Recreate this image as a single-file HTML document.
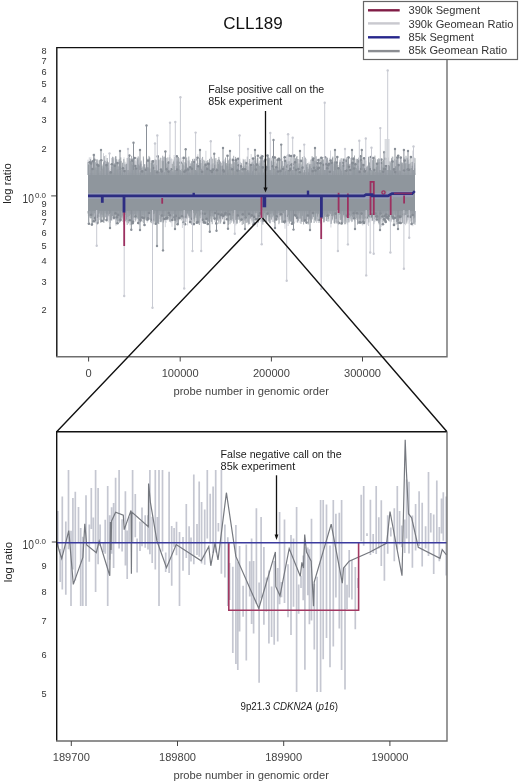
<!DOCTYPE html>
<html><head><meta charset="utf-8"><style>
html,body{margin:0;padding:0;background:#fff;}
svg{display:block;filter:blur(0.35px);}
text{font-family:"Liberation Sans", sans-serif;}
</style></head><body>
<svg width="520" height="782" viewBox="0 0 520 782">
<rect width="520" height="782" fill="#fff"/>
<rect x="88.0" y="173" width="327.0" height="39.5" fill="#8f969d"/>
<path d="M88.0 159.7V175.0M88.4 211.0V216.0M88.4 163.9V175.0M88.8 211.0V214.2M89.0 170.2V175.0M89.4 211.0V216.5M89.3 157.3V175.0M89.7 211.0V218.0M90.0 170.0V175.0M90.4 211.0V213.2M90.8 157.3V175.0M91.2 211.0V213.0M91.5 160.7V175.0M91.9 211.0V214.0M92.2 163.8V175.0M92.6 211.0V215.3M92.9 159.8V175.0M93.3 211.0V215.3M93.3 160.2V175.0M93.7 211.0V214.9M93.9 156.3V175.0M94.3 211.0V222.8M94.2 169.3V175.0M94.6 211.0V214.6M94.6 153.7V175.0M95.0 211.0V222.2M95.3 167.1V175.0M95.7 211.0V220.6M95.6 163.0V175.0M96.0 211.0V219.1M96.4 169.8V175.0M96.8 211.0V220.0M96.7 170.4V175.0M97.1 211.0V215.3M97.1 164.4V175.0M97.5 211.0V216.0M97.5 163.3V175.0M97.9 211.0V214.0M98.0 160.4V175.0M98.4 211.0V217.2M98.8 172.6V175.0M99.2 211.0V216.9M99.4 164.7V175.0M99.8 211.0V217.1M99.9 171.9V175.0M100.3 211.0V215.0M100.3 170.8V175.0M100.7 211.0V216.3M100.9 161.9V175.0M101.3 211.0V221.0M101.4 167.2V175.0M101.8 211.0V218.7M101.7 167.1V175.0M102.1 211.0V213.4M102.3 166.6V175.0M102.7 211.0V215.6M102.9 166.0V175.0M103.3 211.0V222.2M103.5 153.2V175.0M103.9 211.0V214.9M103.9 167.4V175.0M104.3 211.0V220.3M104.2 168.2V175.0M104.6 211.0V213.4M104.6 159.9V175.0M105.0 211.0V217.9M105.1 160.3V175.0M105.5 211.0V216.8M105.5 169.7V175.0M105.9 211.0V216.6M105.9 155.1V175.0M106.3 211.0V218.5M106.4 164.6V175.0M106.8 211.0V214.5M107.0 160.5V175.0M107.4 211.0V221.1M107.8 167.3V175.0M108.2 211.0V222.4M108.1 168.0V175.0M108.5 211.0V214.3M108.4 171.2V175.0M108.8 211.0V214.0M109.2 168.1V175.0M109.6 211.0V214.0M109.5 169.5V175.0M109.9 211.0V220.5M110.1 169.1V175.0M110.5 211.0V222.9M110.9 164.1V175.0M111.3 211.0V219.4M111.5 157.9V175.0M111.9 211.0V220.8M112.1 171.0V175.0M112.5 211.0V215.4M112.5 167.1V175.0M112.9 211.0V219.6M113.2 159.2V175.0M113.6 211.0V219.6M113.9 167.1V175.0M114.3 211.0V219.8M114.3 169.0V175.0M114.7 211.0V218.7M114.9 157.5V175.0M115.3 211.0V218.7M115.6 162.9V175.0M116.0 211.0V225.8M116.4 161.9V175.0M116.8 211.0V221.6M116.8 164.0V175.0M117.2 211.0V213.9M117.2 159.5V175.0M117.6 211.0V220.9M117.7 170.9V175.0M118.1 211.0V216.1M118.1 166.7V175.0M118.5 211.0V217.0M118.7 160.0V175.0M119.1 211.0V222.9M119.3 162.5V175.0M119.7 211.0V220.0M119.7 166.2V175.0M120.1 211.0V220.3M120.1 168.0V175.0M120.5 211.0V219.3M120.7 161.2V175.0M121.1 211.0V219.2M121.1 172.8V175.0M121.5 211.0V219.8M121.6 168.0V175.0M122.0 211.0V217.6M122.2 165.7V175.0M122.6 211.0V216.9M122.9 167.0V175.0M123.3 211.0V218.7M123.6 170.9V175.0M124.0 211.0V213.1M124.0 157.4V175.0M124.4 211.0V218.1M124.7 163.5V175.0M125.1 211.0V217.3M125.0 161.7V175.0M125.4 211.0V220.5M125.4 172.0V175.0M125.8 211.0V213.0M126.0 162.6V175.0M126.4 211.0V222.5M126.5 167.0V175.0M126.9 211.0V217.4M126.9 171.4V175.0M127.3 211.0V219.7M127.2 169.8V175.0M127.6 211.0V221.5M127.6 158.0V175.0M128.0 211.0V220.9M128.4 160.1V175.0M128.8 211.0V213.4M128.9 172.6V175.0M129.3 211.0V219.7M129.5 171.3V175.0M129.9 211.0V225.3M130.0 158.1V175.0M130.4 211.0V215.1M130.4 171.9V175.0M130.8 211.0V217.7M131.0 169.7V175.0M131.4 211.0V222.0M131.7 164.1V175.0M132.1 211.0V222.4M132.3 164.7V175.0M132.7 211.0V217.0M132.7 158.3V175.0M133.1 211.0V214.7M133.0 162.4V175.0M133.4 211.0V221.0M133.8 161.5V175.0M134.2 211.0V214.2M134.2 164.7V175.0M134.6 211.0V220.4M134.7 168.5V175.0M135.1 211.0V219.7M135.3 160.3V175.0M135.7 211.0V215.6M135.7 168.3V175.0M136.1 211.0V220.1M136.3 161.4V175.0M136.7 211.0V218.9M136.8 157.0V175.0M137.2 211.0V213.8M137.5 160.0V175.0M137.9 211.0V215.1M138.1 159.6V175.0M138.5 211.0V222.5M138.6 159.7V175.0M139.0 211.0V225.1M139.0 157.6V175.0M139.4 211.0V214.0M139.3 166.9V175.0M139.7 211.0V216.3M139.9 162.9V175.0M140.3 211.0V221.5M140.3 162.0V175.0M140.7 211.0V222.3M140.6 167.5V175.0M141.0 211.0V217.8M141.1 161.6V175.0M141.5 211.0V214.0M141.6 164.1V175.0M142.0 211.0V215.4M141.9 171.1V175.0M142.3 211.0V222.0M142.4 172.8V175.0M142.8 211.0V217.2M142.9 168.6V175.0M143.3 211.0V214.8M143.6 158.5V175.0M144.0 211.0V213.1M144.2 164.3V175.0M144.6 211.0V221.1M144.7 169.6V175.0M145.1 211.0V214.5M145.3 172.6V175.0M145.7 211.0V217.1M145.8 164.3V175.0M146.2 211.0V220.9M146.3 161.3V175.0M146.7 211.0V213.9M146.8 160.5V175.0M147.2 211.0V222.7M147.4 164.5V175.0M147.8 211.0V221.5M148.0 157.7V175.0M148.4 211.0V218.7M148.6 169.1V175.0M149.0 211.0V216.2M149.4 168.6V175.0M149.8 211.0V219.8M150.1 157.5V175.0M150.5 211.0V219.7M150.7 163.0V175.0M151.1 211.0V213.3M151.5 162.7V175.0M151.9 211.0V221.7M151.9 160.0V175.0M152.3 211.0V222.3M152.2 169.3V175.0M152.6 211.0V215.3M152.9 160.9V175.0M153.3 211.0V220.1M153.4 170.8V175.0M153.8 211.0V222.5M153.9 171.4V175.0M154.3 211.0V214.2M154.4 166.0V175.0M154.8 211.0V216.3M154.8 166.8V175.0M155.2 211.0V221.3M155.4 171.2V175.0M155.8 211.0V222.9M155.9 160.5V175.0M156.3 211.0V218.7M156.5 168.8V175.0M156.9 211.0V221.1M157.3 160.2V175.0M157.7 211.0V213.3M157.9 164.4V175.0M158.3 211.0V220.7M158.6 160.4V175.0M159.0 211.0V221.9M159.2 171.5V175.0M159.6 211.0V218.9M159.6 159.7V175.0M160.0 211.0V218.5M160.3 170.8V175.0M160.7 211.0V221.9M161.1 169.9V175.0M161.5 211.0V217.7M161.8 157.8V175.0M162.2 211.0V216.6M162.6 161.6V175.0M163.0 211.0V220.3M163.2 159.9V175.0M163.6 211.0V217.3M163.7 157.6V175.0M164.1 211.0V221.4M164.2 172.8V175.0M164.6 211.0V217.1M164.9 169.6V175.0M165.3 211.0V227.2M165.3 170.0V175.0M165.7 211.0V222.2M165.6 157.5V175.0M166.0 211.0V223.0M166.0 163.9V175.0M166.4 211.0V219.8M166.6 158.1V175.0M167.0 211.0V215.8M167.1 161.9V175.0M167.5 211.0V220.3M167.7 162.5V175.0M168.1 211.0V219.6M168.4 161.5V175.0M168.8 211.0V213.7M169.0 168.1V175.0M169.4 211.0V216.7M169.4 154.7V175.0M169.8 211.0V220.2M169.7 166.6V175.0M170.1 211.0V213.9M170.2 171.4V175.0M170.6 211.0V217.4M170.6 171.9V175.0M171.0 211.0V223.1M170.9 159.2V175.0M171.3 211.0V221.6M171.6 158.4V175.0M172.0 211.0V226.8M172.0 159.1V175.0M172.4 211.0V220.2M172.6 171.6V175.0M173.0 211.0V213.9M173.1 162.0V175.0M173.5 211.0V216.9M173.7 159.6V175.0M174.1 211.0V216.4M174.1 155.0V175.0M174.5 211.0V213.0M174.5 162.7V175.0M174.9 211.0V219.7M175.0 158.5V175.0M175.4 211.0V215.6M175.7 169.7V175.0M176.1 211.0V222.2M176.2 168.0V175.0M176.6 211.0V221.6M176.7 161.4V175.0M177.1 211.0V217.2M177.0 159.6V175.0M177.4 211.0V215.5M177.4 170.8V175.0M177.8 211.0V220.0M178.1 166.7V175.0M178.5 211.0V224.1M178.5 168.4V175.0M178.9 211.0V218.9M178.9 159.4V175.0M179.3 211.0V216.6M179.5 158.1V175.0M179.9 211.0V217.4M180.0 161.7V175.0M180.4 211.0V213.3M180.7 165.2V175.0M181.1 211.0V216.0M181.4 161.2V175.0M181.8 211.0V216.0M182.0 157.4V175.0M182.4 211.0V227.9M182.7 160.0V175.0M183.1 211.0V221.7M183.4 164.8V175.0M183.8 211.0V221.8M183.8 166.1V175.0M184.2 211.0V216.0M184.3 165.6V175.0M184.7 211.0V217.7M185.0 162.2V175.0M185.4 211.0V222.0M185.5 172.1V175.0M185.9 211.0V219.2M185.8 166.4V175.0M186.2 211.0V222.0M186.1 162.8V175.0M186.5 211.0V217.2M186.5 164.8V175.0M186.9 211.0V219.1M187.2 171.5V175.0M187.6 211.0V225.4M187.9 160.3V175.0M188.3 211.0V218.0M188.3 161.1V175.0M188.7 211.0V213.6M189.1 170.7V175.0M189.5 211.0V222.0M189.5 161.5V175.0M189.9 211.0V222.4M189.8 159.9V175.0M190.2 211.0V218.6M190.6 164.2V175.0M191.0 211.0V218.1M191.3 169.9V175.0M191.7 211.0V213.5M191.6 164.3V175.0M192.0 211.0V215.7M192.0 168.8V175.0M192.4 211.0V218.0M192.4 162.9V175.0M192.8 211.0V220.8M192.8 165.9V175.0M193.2 211.0V218.3M193.2 158.6V175.0M193.6 211.0V219.1M193.7 172.8V175.0M194.1 211.0V221.4M194.1 162.0V175.0M194.5 211.0V219.6M194.4 162.4V175.0M194.8 211.0V220.3M195.1 160.7V175.0M195.5 211.0V217.2M195.8 160.9V175.0M196.2 211.0V222.1M196.2 163.6V175.0M196.6 211.0V213.2M196.9 163.0V175.0M197.3 211.0V220.6M197.5 172.2V175.0M197.9 211.0V215.9M197.8 154.2V175.0M198.2 211.0V221.2M198.4 169.5V175.0M198.8 211.0V214.5M198.8 162.9V175.0M199.2 211.0V216.6M199.6 157.8V175.0M200.0 211.0V217.6M200.3 167.4V175.0M200.7 211.0V222.6M200.9 166.4V175.0M201.3 211.0V216.7M201.5 158.4V175.0M201.9 211.0V217.3M202.0 168.6V175.0M202.4 211.0V221.5M202.3 161.1V175.0M202.7 211.0V220.3M202.9 166.8V175.0M203.3 211.0V222.3M203.4 169.6V175.0M203.8 211.0V219.8M203.8 165.8V175.0M204.2 211.0V217.2M204.3 163.6V175.0M204.7 211.0V220.6M204.8 170.6V175.0M205.2 211.0V215.3M205.2 164.0V175.0M205.6 211.0V217.2M205.9 150.8V175.0M206.3 211.0V222.7M206.4 169.9V175.0M206.8 211.0V220.7M206.9 167.2V175.0M207.3 211.0V223.0M207.3 168.7V175.0M207.7 211.0V222.1M207.6 167.7V175.0M208.0 211.0V221.5M208.2 165.9V175.0M208.6 211.0V216.7M208.6 171.4V175.0M209.0 211.0V217.3M209.0 164.6V175.0M209.4 211.0V222.4M209.7 164.0V175.0M210.1 211.0V213.8M210.4 160.3V175.0M210.8 211.0V216.8M210.7 157.8V175.0M211.1 211.0V221.0M211.2 164.3V175.0M211.6 211.0V215.8M211.5 167.1V175.0M211.9 211.0V215.2M212.0 164.8V175.0M212.4 211.0V213.5M212.8 163.7V175.0M213.2 211.0V215.9M213.2 163.2V175.0M213.6 211.0V213.7M213.7 172.8V175.0M214.1 211.0V219.2M214.2 166.7V175.0M214.6 211.0V221.8M214.8 158.7V175.0M215.2 211.0V217.5M215.3 164.0V175.0M215.7 211.0V221.7M215.7 160.7V175.0M216.1 211.0V215.7M216.1 164.6V175.0M216.5 211.0V213.7M216.5 168.2V175.0M216.9 211.0V216.1M217.2 168.8V175.0M217.6 211.0V220.6M217.5 168.6V175.0M217.9 211.0V218.3M218.0 167.7V175.0M218.4 211.0V215.5M218.6 159.2V175.0M219.0 211.0V221.7M219.0 159.5V175.0M219.4 211.0V214.3M219.3 171.6V175.0M219.7 211.0V219.8M220.1 161.6V175.0M220.5 211.0V215.9M220.7 166.6V175.0M221.1 211.0V217.8M221.0 170.6V175.0M221.4 211.0V221.7M221.3 169.3V175.0M221.7 211.0V217.4M221.9 171.1V175.0M222.3 211.0V214.2M222.7 161.1V175.0M223.1 211.0V218.6M223.4 160.4V175.0M223.8 211.0V215.0M224.1 171.3V175.0M224.5 211.0V213.8M224.4 159.3V175.0M224.8 211.0V222.5M225.2 168.2V175.0M225.6 211.0V218.5M225.7 160.5V175.0M226.1 211.0V216.2M226.1 168.0V175.0M226.5 211.0V213.6M226.4 164.7V175.0M226.8 211.0V216.9M227.1 170.1V175.0M227.5 211.0V213.9M227.8 170.0V175.0M228.2 211.0V222.0M228.4 171.8V175.0M228.8 211.0V220.8M228.9 166.4V175.0M229.3 211.0V214.9M229.6 163.8V175.0M230.0 211.0V218.7M230.2 169.6V175.0M230.6 211.0V216.4M230.7 158.3V175.0M231.1 211.0V222.7M231.1 167.2V175.0M231.5 211.0V222.6M231.8 164.7V175.0M232.2 211.0V220.4M232.4 157.8V175.0M232.8 211.0V221.4M233.0 159.9V175.0M233.4 211.0V221.4M233.8 161.3V175.0M234.2 211.0V219.8M234.2 170.9V175.0M234.6 211.0V222.5M234.7 166.0V175.0M235.1 211.0V220.0M235.0 159.4V175.0M235.4 211.0V213.5M235.5 162.5V175.0M235.9 211.0V225.4M236.1 166.6V175.0M236.5 211.0V220.4M236.5 162.8V175.0M236.9 211.0V221.7M237.2 159.5V175.0M237.6 211.0V215.6M237.6 165.2V175.0M238.0 211.0V216.9M238.1 160.0V175.0M238.5 211.0V214.0M238.8 163.2V175.0M239.2 211.0V218.9M239.3 163.7V175.0M239.7 211.0V222.9M239.8 158.7V175.0M240.2 211.0V216.1M240.1 163.8V175.0M240.5 211.0V214.4M240.6 161.8V175.0M241.0 211.0V214.7M241.0 171.8V175.0M241.4 211.0V215.6M241.7 172.7V175.0M242.1 211.0V214.1M242.2 166.6V175.0M242.6 211.0V219.9M243.0 158.8V175.0M243.4 211.0V219.6M243.4 160.8V175.0M243.8 211.0V218.9M243.9 159.5V175.0M244.3 211.0V216.0M244.5 165.5V175.0M244.9 211.0V220.5M245.2 166.6V175.0M245.6 211.0V222.8M245.6 159.3V175.0M246.0 211.0V216.2M246.2 165.8V175.0M246.6 211.0V222.5M246.6 166.0V175.0M247.0 211.0V222.6M247.1 160.8V175.0M247.5 211.0V213.8M247.8 163.7V175.0M248.2 211.0V225.3M248.2 164.1V175.0M248.6 211.0V224.6M248.7 171.3V175.0M249.1 211.0V219.5M249.2 163.2V175.0M249.6 211.0V218.4M249.9 161.2V175.0M250.3 211.0V213.7M250.7 163.8V175.0M251.1 211.0V220.8M251.2 154.1V175.0M251.6 211.0V219.9M251.8 162.9V175.0M252.2 211.0V220.3M252.6 164.5V175.0M253.0 211.0V220.9M252.9 157.6V175.0M253.3 211.0V214.7M253.4 158.2V175.0M253.8 211.0V213.3M253.8 166.0V175.0M254.2 211.0V215.9M254.6 160.4V175.0M255.0 211.0V220.4M255.3 161.1V175.0M255.7 211.0V220.0M255.9 161.5V175.0M256.3 211.0V217.7M256.5 164.7V175.0M256.9 211.0V222.9M256.9 159.5V175.0M257.3 211.0V227.1M257.5 157.5V175.0M257.9 211.0V218.0M257.9 163.2V175.0M258.3 211.0V222.9M258.4 162.5V175.0M258.8 211.0V219.6M259.1 171.1V175.0M259.5 211.0V220.0M259.4 160.6V175.0M259.8 211.0V220.5M260.1 162.2V175.0M260.5 211.0V214.7M260.5 167.8V175.0M260.9 211.0V222.1M261.0 154.3V175.0M261.4 211.0V222.0M261.8 165.7V175.0M262.2 211.0V223.0M262.3 157.8V175.0M262.7 211.0V218.0M262.9 157.4V175.0M263.3 211.0V217.6M263.3 159.8V175.0M263.7 211.0V219.3M264.0 166.1V175.0M264.4 211.0V215.4M264.6 164.0V175.0M265.0 211.0V218.3M265.2 167.3V175.0M265.6 211.0V216.8M265.6 164.5V175.0M266.0 211.0V215.2M266.2 164.8V175.0M266.6 211.0V218.7M266.6 171.1V175.0M267.0 211.0V216.4M267.1 164.8V175.0M267.5 211.0V214.5M267.8 158.0V175.0M268.2 211.0V221.5M268.6 170.3V175.0M269.0 211.0V220.7M269.2 158.8V175.0M269.6 211.0V217.4M269.9 169.2V175.0M270.3 211.0V217.3M270.6 158.8V175.0M271.0 211.0V217.7M271.2 168.1V175.0M271.6 211.0V219.6M271.8 161.4V175.0M272.2 211.0V221.9M272.6 172.2V175.0M273.0 211.0V222.0M272.9 162.3V175.0M273.3 211.0V222.0M273.3 163.6V175.0M273.7 211.0V218.3M273.6 156.8V175.0M274.0 211.0V214.0M274.2 169.1V175.0M274.6 211.0V215.6M274.7 162.0V175.0M275.1 211.0V219.9M275.0 165.5V175.0M275.4 211.0V215.9M275.6 158.9V175.0M276.0 211.0V216.1M276.2 161.4V175.0M276.6 211.0V213.6M276.9 168.8V175.0M277.3 211.0V213.5M277.3 170.4V175.0M277.7 211.0V218.2M277.6 164.9V175.0M278.0 211.0V219.1M278.0 169.0V175.0M278.4 211.0V219.6M278.5 167.2V175.0M278.9 211.0V217.1M279.2 158.9V175.0M279.6 211.0V222.9M279.8 166.7V175.0M280.2 211.0V219.9M280.1 172.6V175.0M280.5 211.0V216.2M280.9 168.2V175.0M281.3 211.0V217.3M281.4 158.5V175.0M281.8 211.0V219.3M281.9 170.2V175.0M282.3 211.0V221.7M282.6 171.0V175.0M283.0 211.0V221.6M283.1 158.1V175.0M283.5 211.0V221.2M283.7 165.6V175.0M284.1 211.0V215.5M284.1 162.9V175.0M284.5 211.0V213.6M284.6 155.6V175.0M285.0 211.0V228.7M284.9 164.3V175.0M285.3 211.0V219.8M285.5 159.1V175.0M285.9 211.0V223.0M285.9 164.4V175.0M286.3 211.0V219.5M286.2 171.0V175.0M286.6 211.0V218.6M286.5 155.3V175.0M286.9 211.0V217.1M286.8 159.9V175.0M287.2 211.0V219.2M287.2 158.7V175.0M287.6 211.0V214.3M287.7 153.8V175.0M288.1 211.0V226.0M288.4 160.9V175.0M288.8 211.0V217.7M289.0 165.9V175.0M289.4 211.0V218.4M289.4 161.3V175.0M289.8 211.0V218.1M290.0 161.2V175.0M290.4 211.0V221.3M290.6 158.3V175.0M291.0 211.0V221.7M291.4 170.7V175.0M291.8 211.0V220.2M291.7 169.7V175.0M292.1 211.0V215.5M292.2 158.2V175.0M292.6 211.0V220.0M292.9 172.5V175.0M293.3 211.0V219.5M293.7 169.7V175.0M294.1 211.0V222.0M294.0 166.2V175.0M294.4 211.0V213.3M294.6 162.7V175.0M295.0 211.0V215.8M295.4 172.1V175.0M295.8 211.0V214.4M295.7 159.6V175.0M296.1 211.0V222.3M296.4 169.8V175.0M296.8 211.0V219.6M297.0 164.4V175.0M297.4 211.0V223.0M297.5 171.4V175.0M297.9 211.0V222.7M297.9 165.9V175.0M298.3 211.0V215.0M298.7 159.1V175.0M299.1 211.0V217.5M299.2 159.6V175.0M299.6 211.0V218.6M299.5 166.0V175.0M299.9 211.0V222.9M300.0 167.7V175.0M300.4 211.0V215.7M300.7 168.5V175.0M301.1 211.0V215.5M301.3 164.6V175.0M301.7 211.0V221.9M301.6 164.5V175.0M302.0 211.0V220.1M302.2 170.4V175.0M302.6 211.0V216.3M302.9 160.5V175.0M303.3 211.0V221.4M303.6 161.8V175.0M304.0 211.0V220.7M304.0 158.6V175.0M304.4 211.0V213.6M304.8 162.3V175.0M305.2 211.0V220.8M305.5 157.6V175.0M305.9 211.0V221.1M306.0 163.1V175.0M306.4 211.0V219.5M306.6 158.8V175.0M307.0 211.0V217.5M307.2 163.7V175.0M307.6 211.0V219.9M307.6 171.2V175.0M308.0 211.0V215.5M308.4 167.7V175.0M308.8 211.0V213.6M309.0 161.7V175.0M309.4 211.0V214.7M309.8 168.3V175.0M310.2 211.0V219.6M310.4 166.3V175.0M310.8 211.0V218.3M310.9 167.5V175.0M311.3 211.0V213.5M311.5 163.9V175.0M311.9 211.0V218.8M311.9 158.8V175.0M312.3 211.0V218.5M312.3 164.4V175.0M312.7 211.0V217.2M312.7 170.9V175.0M313.1 211.0V215.7M313.3 168.8V175.0M313.7 211.0V216.4M313.9 160.6V175.0M314.3 211.0V214.6M314.6 162.9V175.0M315.0 211.0V214.5M315.0 172.5V175.0M315.4 211.0V219.5M315.6 170.1V175.0M316.0 211.0V219.3M316.1 161.3V175.0M316.5 211.0V222.8M316.5 159.3V175.0M316.9 211.0V222.6M317.3 163.5V175.0M317.7 211.0V215.3M317.7 162.0V175.0M318.1 211.0V221.0M318.5 159.5V175.0M318.9 211.0V221.0M318.9 169.6V175.0M319.3 211.0V217.8M319.7 159.7V175.0M320.1 211.0V215.6M320.1 168.6V175.0M320.5 211.0V223.4M320.8 169.1V175.0M321.2 211.0V215.6M321.3 167.1V175.0M321.7 211.0V218.1M321.7 171.3V175.0M322.1 211.0V213.2M322.5 159.5V175.0M322.9 211.0V216.5M322.8 168.4V175.0M323.2 211.0V218.0M323.4 165.0V175.0M323.8 211.0V218.8M324.1 164.3V175.0M324.5 211.0V220.2M324.8 168.6V175.0M325.2 211.0V220.8M325.2 161.9V175.0M325.6 211.0V216.9M326.0 157.1V175.0M326.4 211.0V216.8M326.5 157.5V175.0M326.9 211.0V221.3M326.9 160.5V175.0M327.3 211.0V221.0M327.3 165.3V175.0M327.7 211.0V222.1M327.9 172.5V175.0M328.3 211.0V218.8M328.3 171.7V175.0M328.7 211.0V217.3M328.7 160.5V175.0M329.1 211.0V215.8M329.4 157.8V175.0M329.8 211.0V216.4M330.1 162.6V175.0M330.5 211.0V213.7M330.5 150.5V175.0M330.9 211.0V227.5M331.1 158.6V175.0M331.5 211.0V222.8M331.5 162.9V175.0M331.9 211.0V215.6M331.9 167.0V175.0M332.3 211.0V220.7M332.7 157.6V175.0M333.1 211.0V213.4M333.3 166.5V175.0M333.7 211.0V217.1M333.8 163.5V175.0M334.2 211.0V218.0M334.1 170.6V175.0M334.5 211.0V215.3M334.8 165.9V175.0M335.2 211.0V219.6M335.2 169.8V175.0M335.6 211.0V222.3M335.6 164.0V175.0M336.0 211.0V218.6M336.4 166.6V175.0M336.8 211.0V221.0M336.9 163.3V175.0M337.3 211.0V222.1M337.5 157.8V175.0M337.9 211.0V216.4M338.2 168.9V175.0M338.6 211.0V225.1M338.8 168.7V175.0M339.2 211.0V213.4M339.5 161.4V175.0M339.9 211.0V217.9M339.8 159.8V175.0M340.2 211.0V219.5M340.4 159.5V175.0M340.8 211.0V224.4M341.0 161.4V175.0M341.4 211.0V214.8M341.6 166.6V175.0M342.0 211.0V221.9M342.3 161.8V175.0M342.7 211.0V217.7M342.9 161.7V175.0M343.3 211.0V214.0M343.7 161.3V175.0M344.1 211.0V217.0M344.4 161.0V175.0M344.8 211.0V217.8M344.8 167.9V175.0M345.2 211.0V221.4M345.2 166.6V175.0M345.6 211.0V219.4M346.0 161.6V175.0M346.4 211.0V216.5M346.6 164.2V175.0M347.0 211.0V222.1M347.1 162.8V175.0M347.5 211.0V224.6M347.5 171.8V175.0M347.9 211.0V214.1M347.9 169.7V175.0M348.3 211.0V220.3M348.2 162.1V175.0M348.6 211.0V215.8M348.9 165.5V175.0M349.3 211.0V222.4M349.3 170.9V175.0M349.7 211.0V221.3M349.9 173.0V175.0M350.3 211.0V218.9M350.6 158.0V175.0M351.0 211.0V218.7M351.2 167.6V175.0M351.6 211.0V222.2M351.6 163.9V175.0M352.0 211.0V213.8M352.1 169.6V175.0M352.5 211.0V213.8M352.8 166.4V175.0M353.2 211.0V220.2M353.5 170.1V175.0M353.9 211.0V213.8M354.1 162.9V175.0M354.5 211.0V221.5M354.6 170.6V175.0M355.0 211.0V216.9M355.0 167.2V175.0M355.4 211.0V214.5M355.6 162.4V175.0M356.0 211.0V217.1M356.1 171.9V175.0M356.5 211.0V220.0M356.7 159.8V175.0M357.1 211.0V213.1M357.1 159.1V175.0M357.5 211.0V225.0M357.5 170.0V175.0M357.9 211.0V219.1M358.2 161.3V175.0M358.6 211.0V214.4M358.7 159.4V175.0M359.1 211.0V214.3M359.4 159.1V175.0M359.8 211.0V214.9M359.9 163.2V175.0M360.3 211.0V220.4M360.6 158.0V175.0M361.0 211.0V222.4M361.1 172.6V175.0M361.5 211.0V222.4M361.9 172.1V175.0M362.3 211.0V215.8M362.4 159.7V175.0M362.8 211.0V225.5M363.0 165.8V175.0M363.4 211.0V222.0M363.4 166.8V175.0M363.8 211.0V220.9M364.0 157.4V175.0M364.4 211.0V218.0M364.6 158.8V175.0M365.0 211.0V217.8M365.1 158.9V175.0M365.5 211.0V216.9M365.8 173.0V175.0M366.2 211.0V214.6M366.2 166.2V175.0M366.6 211.0V220.5M366.8 172.4V175.0M367.2 211.0V224.7M367.4 165.3V175.0M367.8 211.0V218.2M368.1 171.6V175.0M368.5 211.0V226.0M368.8 162.1V175.0M369.2 211.0V213.4M369.2 168.8V175.0M369.6 211.0V216.5M369.8 166.1V175.0M370.2 211.0V216.2M370.5 158.6V175.0M370.9 211.0V216.8M371.3 170.3V175.0M371.7 211.0V221.2M371.6 164.5V175.0M372.0 211.0V214.9M372.1 161.1V175.0M372.5 211.0V221.0M372.6 167.4V175.0M373.0 211.0V218.2M373.1 158.3V175.0M373.5 211.0V218.6M373.7 163.7V175.0M374.1 211.0V217.5M374.2 168.6V175.0M374.6 211.0V222.3M375.0 157.9V175.0M375.4 211.0V216.0M375.5 158.9V175.0M375.9 211.0V221.6M376.0 163.4V175.0M376.4 211.0V216.8M376.4 167.2V175.0M376.8 211.0V220.2M376.9 164.7V175.0M377.3 211.0V220.4M377.3 167.7V175.0M377.7 211.0V214.9M377.9 159.5V175.0M378.3 211.0V220.3M378.3 165.9V175.0M378.7 211.0V220.8M379.1 159.6V175.0M379.5 211.0V222.1M379.7 163.7V175.0M380.1 211.0V221.1M380.2 159.1V175.0M380.6 211.0V217.4M380.8 172.6V175.0M381.2 211.0V226.8M381.6 165.5V175.0M382.0 211.0V222.0M382.3 169.7V175.0M382.7 211.0V214.7M383.0 162.8V175.0M383.4 211.0V214.0M383.8 150.8V175.0M384.2 211.0V216.0M384.4 168.1V175.0M384.8 211.0V214.5M384.7 161.5V175.0M385.1 211.0V217.9M385.3 164.8V175.0M385.7 211.0V218.9M386.0 161.4V175.0M386.4 211.0V214.1M386.7 160.9V175.0M387.1 211.0V215.6M387.1 171.1V175.0M387.5 211.0V215.2M387.6 159.0V175.0M388.0 211.0V214.5M388.0 160.7V175.0M388.4 211.0V218.5M388.6 161.8V175.0M389.0 211.0V221.3M389.2 165.6V175.0M389.6 211.0V213.7M389.7 170.0V175.0M390.1 211.0V217.3M390.4 160.9V175.0M390.8 211.0V219.8M391.0 163.6V175.0M391.4 211.0V222.2M391.5 170.7V175.0M391.9 211.0V214.9M392.1 156.6V175.0M392.5 211.0V219.5M392.6 172.4V175.0M393.0 211.0V219.0M393.0 164.3V175.0M393.4 211.0V215.3M393.5 161.7V175.0M393.9 211.0V221.9M394.1 161.8V175.0M394.5 211.0V214.4M394.6 159.0V175.0M395.0 211.0V215.4M395.3 170.4V175.0M395.7 211.0V216.2M396.0 170.5V175.0M396.4 211.0V221.6M396.7 159.4V175.0M397.1 211.0V215.8M397.3 158.5V175.0M397.7 211.0V220.9M397.7 172.1V175.0M398.1 211.0V221.1M398.3 171.6V175.0M398.7 211.0V219.9M399.0 171.4V175.0M399.4 211.0V219.4M399.4 162.3V175.0M399.8 211.0V216.5M400.0 158.1V175.0M400.4 211.0V217.4M400.5 160.8V175.0M400.9 211.0V219.6M401.2 170.2V175.0M401.6 211.0V221.7M401.5 157.0V175.0M401.9 211.0V219.4M401.9 168.1V175.0M402.3 211.0V214.7M402.6 164.8V175.0M403.0 211.0V217.1M403.2 164.0V175.0M403.6 211.0V216.0M403.8 157.7V175.0M404.2 211.0V213.5M404.6 157.4V175.0M405.0 211.0V217.5M405.2 158.5V175.0M405.6 211.0V225.2M405.8 172.3V175.0M406.2 211.0V220.4M406.5 163.2V175.0M406.9 211.0V221.9M407.0 170.8V175.0M407.4 211.0V220.5M407.5 159.4V175.0M407.9 211.0V214.0M407.8 166.0V175.0M408.2 211.0V220.0M408.2 165.0V175.0M408.6 211.0V218.7M408.6 159.9V175.0M409.0 211.0V223.8M409.0 162.4V175.0M409.4 211.0V215.2M409.3 158.3V175.0M409.7 211.0V222.4M409.9 168.9V175.0M410.3 211.0V218.7M410.6 162.7V175.0M411.0 211.0V216.5M411.3 166.1V175.0M411.7 211.0V213.6M411.6 162.0V175.0M412.0 211.0V220.1M412.1 164.9V175.0M412.5 211.0V214.4M412.4 168.5V175.0M412.8 211.0V226.2M412.9 150.5V175.0M413.3 211.0V215.8M413.6 167.6V175.0M414.0 211.0V216.0M414.2 165.2V175.0M414.6 211.0V214.1M414.8 173.0V175.0M415.2 211.0V222.3" stroke="#c6c9d1" stroke-width="0.8" fill="none"/>
<path d="M88.0 162.1V175.0M88.0 211.0V213.5M88.5 164.6V175.0M88.5 211.0V222.5M88.9 164.8V175.0M88.9 211.0V223.7M89.7 162.3V175.0M89.7 211.0V216.5M90.5 159.2V175.0M90.5 211.0V218.4M91.1 163.4V175.0M91.1 211.0V214.7M91.5 160.7V175.0M91.5 211.0V218.3M91.9 169.7V175.0M91.9 211.0V224.6M92.4 169.0V175.0M92.4 211.0V224.7M93.1 161.4V175.0M93.1 211.0V216.9M93.7 160.4V175.0M93.7 211.0V221.3M94.4 159.9V175.0M94.4 211.0V213.4M94.9 168.3V175.0M94.9 211.0V218.1M95.7 161.6V175.0M95.7 211.0V220.1M96.0 167.5V175.0M96.0 211.0V223.3M96.8 159.5V175.0M96.8 211.0V216.9M97.1 159.3V175.0M97.1 211.0V215.8M97.4 164.7V175.0M97.4 211.0V223.1M97.9 164.6V175.0M97.9 211.0V215.0M98.4 165.7V175.0M98.4 211.0V222.7M98.7 164.3V175.0M98.7 211.0V214.0M99.3 159.8V175.0M99.3 211.0V213.3M100.0 160.6V175.0M100.0 211.0V220.1M100.7 170.2V175.0M100.7 211.0V222.8M101.3 160.3V175.0M101.3 211.0V214.6M101.8 165.6V175.0M101.8 211.0V220.9M102.3 168.6V175.0M102.3 211.0V217.3M103.0 164.4V175.0M103.0 211.0V215.1M103.5 162.3V175.0M103.5 211.0V222.1M103.9 167.3V175.0M103.9 211.0V223.0M104.3 156.1V175.0M104.3 211.0V220.3M105.1 161.0V175.0M105.1 211.0V213.4M105.8 165.3V175.0M105.8 211.0V217.1M106.5 165.1V175.0M106.5 211.0V220.1M106.8 161.9V175.0M106.8 211.0V214.2M107.2 158.0V175.0M107.2 211.0V213.8M107.6 161.4V175.0M107.6 211.0V219.3M108.2 162.8V175.0M108.2 211.0V215.4M108.9 162.1V175.0M108.9 211.0V216.4M109.5 171.5V175.0M109.5 211.0V214.0M110.3 172.2V175.0M110.3 211.0V213.1M110.8 172.4V175.0M110.8 211.0V220.1M111.4 166.4V175.0M111.4 211.0V220.4M111.8 164.2V175.0M111.8 211.0V216.4M112.6 156.7V175.0M112.6 211.0V216.0M113.2 157.3V175.0M113.2 211.0V217.0M113.9 164.0V175.0M113.9 211.0V217.8M114.4 163.2V175.0M114.4 211.0V217.1M114.8 165.8V175.0M114.8 211.0V214.6M115.5 156.3V175.0M115.5 211.0V213.4M116.0 156.3V175.0M116.0 211.0V224.3M116.3 159.2V175.0M116.3 211.0V219.6M116.9 169.6V175.0M116.9 211.0V217.3M117.5 163.1V175.0M117.5 211.0V223.3M118.0 169.1V175.0M118.0 211.0V214.9M118.7 166.3V175.0M118.7 211.0V221.3M119.2 158.9V175.0M119.2 211.0V222.7M119.6 161.6V175.0M119.6 211.0V216.3M120.2 171.1V175.0M120.2 211.0V222.2M120.5 166.7V175.0M120.5 211.0V219.9M120.8 157.4V175.0M120.8 211.0V217.7M121.1 160.9V175.0M121.1 211.0V217.3M121.9 169.8V175.0M121.9 211.0V218.6M122.5 162.7V175.0M122.5 211.0V215.6M123.0 168.2V175.0M123.0 211.0V221.8M123.8 159.1V175.0M123.8 211.0V224.6M124.4 171.1V175.0M124.4 211.0V214.1M125.2 164.4V175.0M125.2 211.0V215.0M125.8 170.2V175.0M125.8 211.0V221.3M126.5 163.9V175.0M126.5 211.0V219.7M127.2 157.9V175.0M127.2 211.0V224.9M127.9 163.5V175.0M127.9 211.0V216.9M128.6 157.0V175.0M128.6 211.0V223.4M129.3 155.6V175.0M129.3 211.0V216.0M129.9 158.4V175.0M129.9 211.0V220.2M130.4 160.8V175.0M130.4 211.0V214.4M131.1 159.0V175.0M131.1 211.0V224.9M131.6 155.8V175.0M131.6 211.0V224.6M132.3 160.6V175.0M132.3 211.0V214.2M132.6 165.1V175.0M132.6 211.0V223.2M133.1 158.1V175.0M133.1 211.0V221.7M133.7 164.2V175.0M133.7 211.0V217.7M134.2 169.1V175.0M134.2 211.0V214.6M134.7 158.0V175.0M134.7 211.0V214.6M135.4 166.1V175.0M135.4 211.0V216.4M135.7 166.9V175.0M135.7 211.0V221.5M136.1 168.5V175.0M136.1 211.0V214.8M136.7 169.6V175.0M136.7 211.0V217.3M137.4 158.2V175.0M137.4 211.0V218.6M138.2 156.4V175.0M138.2 211.0V223.0M138.7 164.4V175.0M138.7 211.0V219.5M139.2 165.6V175.0M139.2 211.0V218.8M140.0 172.5V175.0M140.0 211.0V222.4M140.4 170.7V175.0M140.4 211.0V220.0M140.7 163.6V175.0M140.7 211.0V222.0M141.1 160.6V175.0M141.1 211.0V221.2M141.8 167.8V175.0M141.8 211.0V217.6M142.2 171.4V175.0M142.2 211.0V217.6M142.8 166.5V175.0M142.8 211.0V215.2M143.4 156.5V175.0M143.4 211.0V223.4M144.0 171.9V175.0M144.0 211.0V218.0M144.5 164.2V175.0M144.5 211.0V225.0M145.1 167.2V175.0M145.1 211.0V217.8M145.8 169.7V175.0M145.8 211.0V219.9M146.4 168.0V175.0M146.4 211.0V218.4M147.1 167.9V175.0M147.1 211.0V221.0M147.6 167.2V175.0M147.6 211.0V219.4M148.0 160.6V175.0M148.0 211.0V218.4M148.6 167.4V175.0M148.6 211.0V216.9M149.0 155.9V175.0M149.0 211.0V213.0M149.5 157.3V175.0M149.5 211.0V213.0M149.9 168.5V175.0M149.9 211.0V219.7M150.6 172.1V175.0M150.6 211.0V222.2M151.3 160.6V175.0M151.3 211.0V223.2M151.7 162.8V175.0M151.7 211.0V220.4M152.0 168.6V175.0M152.0 211.0V219.8M152.4 160.3V175.0M152.4 211.0V214.9M152.7 160.8V175.0M152.7 211.0V221.6M153.1 161.4V175.0M153.1 211.0V224.4M153.6 164.7V175.0M153.6 211.0V214.1M154.0 168.1V175.0M154.0 211.0V220.8M154.4 163.6V175.0M154.4 211.0V213.5M154.9 159.5V175.0M154.9 211.0V222.6M155.7 159.6V175.0M155.7 211.0V223.8M156.1 159.8V175.0M156.1 211.0V224.4M156.7 165.2V175.0M156.7 211.0V224.3M157.2 172.3V175.0M157.2 211.0V222.9M157.7 156.4V175.0M157.7 211.0V223.4M158.4 156.4V175.0M158.4 211.0V223.7M158.8 159.5V175.0M158.8 211.0V224.1M159.6 171.7V175.0M159.6 211.0V215.2M160.3 157.7V175.0M160.3 211.0V221.9M161.0 169.5V175.0M161.0 211.0V222.3M161.7 171.4V175.0M161.7 211.0V221.5M162.1 160.6V175.0M162.1 211.0V215.6M162.7 155.7V175.0M162.7 211.0V215.3M163.3 161.1V175.0M163.3 211.0V222.6M164.0 156.8V175.0M164.0 211.0V219.0M164.7 172.0V175.0M164.7 211.0V216.1M165.0 156.6V175.0M165.0 211.0V216.4M165.8 157.8V175.0M165.8 211.0V218.6M166.4 169.2V175.0M166.4 211.0V218.2M166.9 163.3V175.0M166.9 211.0V216.4M167.3 166.9V175.0M167.3 211.0V217.7M167.9 157.4V175.0M167.9 211.0V219.9M168.5 171.6V175.0M168.5 211.0V216.1M168.8 162.6V175.0M168.8 211.0V213.0M169.4 172.0V175.0M169.4 211.0V221.7M169.9 157.2V175.0M169.9 211.0V215.2M170.6 168.7V175.0M170.6 211.0V221.7M171.1 169.2V175.0M171.1 211.0V217.7M171.8 170.8V175.0M171.8 211.0V214.5M172.3 163.8V175.0M172.3 211.0V219.9M173.0 171.6V175.0M173.0 211.0V219.0M173.7 161.4V175.0M173.7 211.0V214.1M174.4 166.2V175.0M174.4 211.0V217.4M175.0 157.0V175.0M175.0 211.0V219.6M175.8 165.8V175.0M175.8 211.0V215.9M176.1 165.9V175.0M176.1 211.0V223.5M176.7 156.2V175.0M176.7 211.0V218.9M177.0 169.6V175.0M177.0 211.0V214.7M177.6 155.7V175.0M177.6 211.0V224.3M177.9 161.4V175.0M177.9 211.0V220.2M178.5 157.0V175.0M178.5 211.0V223.9M178.9 169.6V175.0M178.9 211.0V220.3M179.3 165.4V175.0M179.3 211.0V218.0M180.0 169.2V175.0M180.0 211.0V216.9M180.6 162.8V175.0M180.6 211.0V218.8M181.2 171.1V175.0M181.2 211.0V220.4M182.0 168.9V175.0M182.0 211.0V216.2M182.4 162.7V175.0M182.4 211.0V216.6M182.9 164.4V175.0M182.9 211.0V219.2M183.7 157.9V175.0M183.7 211.0V222.3M184.4 171.7V175.0M184.4 211.0V217.0M185.0 162.3V175.0M185.0 211.0V224.3M185.6 170.4V175.0M185.6 211.0V217.5M186.2 163.6V175.0M186.2 211.0V217.4M186.7 157.5V175.0M186.7 211.0V218.4M187.3 167.4V175.0M187.3 211.0V213.1M187.7 168.2V175.0M187.7 211.0V213.8M188.1 169.5V175.0M188.1 211.0V214.9M188.8 156.5V175.0M188.8 211.0V216.2M189.2 166.5V175.0M189.2 211.0V216.6M189.8 172.3V175.0M189.8 211.0V217.9M190.2 167.3V175.0M190.2 211.0V222.1M190.9 163.2V175.0M190.9 211.0V217.3M191.6 161.2V175.0M191.6 211.0V224.7M191.9 168.7V175.0M191.9 211.0V218.7M192.5 159.1V175.0M192.5 211.0V215.6M193.3 161.3V175.0M193.3 211.0V213.2M193.9 164.4V175.0M193.9 211.0V224.1M194.4 161.9V175.0M194.4 211.0V218.4M194.8 162.5V175.0M194.8 211.0V222.3M195.5 159.8V175.0M195.5 211.0V215.5M196.1 168.2V175.0M196.1 211.0V217.9M196.4 163.8V175.0M196.4 211.0V213.5M196.8 171.2V175.0M196.8 211.0V222.8M197.5 157.8V175.0M197.5 211.0V222.0M198.2 166.2V175.0M198.2 211.0V224.1M198.8 165.9V175.0M198.8 211.0V222.8M199.4 158.3V175.0M199.4 211.0V225.0M199.8 163.3V175.0M199.8 211.0V215.7M200.4 160.0V175.0M200.4 211.0V218.3M201.0 163.1V175.0M201.0 211.0V215.5M201.5 168.8V175.0M201.5 211.0V213.4M202.0 171.8V175.0M202.0 211.0V218.4M202.6 156.9V175.0M202.6 211.0V219.7M203.0 171.5V175.0M203.0 211.0V221.9M203.8 159.8V175.0M203.8 211.0V222.4M204.3 165.8V175.0M204.3 211.0V222.0M204.8 160.8V175.0M204.8 211.0V213.7M205.2 169.5V175.0M205.2 211.0V222.8M205.6 164.9V175.0M205.6 211.0V219.9M206.1 162.8V175.0M206.1 211.0V214.1M206.5 167.0V175.0M206.5 211.0V218.7M206.9 161.1V175.0M206.9 211.0V213.5M207.3 169.0V175.0M207.3 211.0V224.9M207.8 160.1V175.0M207.8 211.0V224.0M208.2 163.7V175.0M208.2 211.0V220.6M208.6 164.1V175.0M208.6 211.0V221.7M209.2 169.2V175.0M209.2 211.0V214.9M209.5 158.8V175.0M209.5 211.0V222.7M210.1 164.8V175.0M210.1 211.0V218.7M210.7 170.3V175.0M210.7 211.0V216.2M211.3 156.8V175.0M211.3 211.0V222.0M211.9 172.0V175.0M211.9 211.0V213.1M212.2 169.7V175.0M212.2 211.0V224.2M212.7 158.7V175.0M212.7 211.0V216.5M213.4 169.6V175.0M213.4 211.0V217.5M214.0 170.9V175.0M214.0 211.0V219.3M214.7 165.0V175.0M214.7 211.0V218.6M215.1 170.4V175.0M215.1 211.0V213.1M215.9 158.1V175.0M215.9 211.0V213.8M216.3 168.1V175.0M216.3 211.0V223.4M216.9 170.2V175.0M216.9 211.0V218.8M217.3 161.9V175.0M217.3 211.0V219.6M217.8 159.8V175.0M217.8 211.0V220.6M218.4 164.1V175.0M218.4 211.0V214.0M218.9 156.9V175.0M218.9 211.0V223.8M219.5 159.9V175.0M219.5 211.0V218.6M220.3 165.6V175.0M220.3 211.0V219.3M220.6 161.5V175.0M220.6 211.0V223.6M221.2 162.8V175.0M221.2 211.0V215.1M221.9 165.8V175.0M221.9 211.0V214.5M222.5 165.5V175.0M222.5 211.0V219.3M222.9 172.2V175.0M222.9 211.0V213.0M223.3 170.1V175.0M223.3 211.0V216.0M223.8 171.4V175.0M223.8 211.0V213.9M224.1 161.7V175.0M224.1 211.0V222.9M224.7 170.2V175.0M224.7 211.0V214.6M225.5 157.5V175.0M225.5 211.0V213.1M225.8 163.6V175.0M225.8 211.0V214.5M226.3 163.0V175.0M226.3 211.0V216.0M227.0 166.1V175.0M227.0 211.0V219.2M227.5 155.8V175.0M227.5 211.0V215.1M227.9 163.9V175.0M227.9 211.0V214.5M228.3 160.3V175.0M228.3 211.0V224.9M228.9 169.4V175.0M228.9 211.0V221.1M229.3 158.7V175.0M229.3 211.0V214.3M230.0 163.4V175.0M230.0 211.0V224.2M230.4 169.5V175.0M230.4 211.0V220.2M231.0 167.2V175.0M231.0 211.0V220.0M231.8 163.8V175.0M231.8 211.0V220.6M232.3 169.3V175.0M232.3 211.0V219.1M232.9 160.0V175.0M232.9 211.0V215.8M233.4 166.5V175.0M233.4 211.0V213.1M233.7 155.8V175.0M233.7 211.0V223.7M234.3 162.2V175.0M234.3 211.0V222.3M234.9 171.3V175.0M234.9 211.0V217.6M235.6 156.9V175.0M235.6 211.0V220.1M235.9 160.3V175.0M235.9 211.0V219.3M236.4 158.3V175.0M236.4 211.0V223.7M237.1 161.8V175.0M237.1 211.0V219.3M237.4 170.6V175.0M237.4 211.0V223.6M237.8 167.6V175.0M237.8 211.0V215.4M238.2 158.8V175.0M238.2 211.0V219.8M238.6 165.2V175.0M238.6 211.0V214.1M239.2 169.0V175.0M239.2 211.0V219.5M239.8 162.5V175.0M239.8 211.0V220.4M240.4 168.1V175.0M240.4 211.0V221.7M240.9 166.4V175.0M240.9 211.0V213.4M241.6 163.2V175.0M241.6 211.0V219.6M242.2 172.1V175.0M242.2 211.0V224.9M242.7 169.3V175.0M242.7 211.0V214.4M243.4 166.7V175.0M243.4 211.0V224.1M243.9 159.5V175.0M243.9 211.0V214.5M244.5 170.7V175.0M244.5 211.0V216.1M244.9 169.3V175.0M244.9 211.0V220.5M245.4 161.7V175.0M245.4 211.0V217.5M245.7 168.5V175.0M245.7 211.0V217.5M246.4 171.2V175.0M246.4 211.0V216.5M246.9 163.3V175.0M246.9 211.0V223.0M247.3 156.6V175.0M247.3 211.0V216.4M247.8 169.5V175.0M247.8 211.0V221.8M248.2 166.3V175.0M248.2 211.0V213.9M248.7 172.5V175.0M248.7 211.0V223.8M249.1 170.6V175.0M249.1 211.0V213.9M249.7 159.0V175.0M249.7 211.0V224.2M250.3 164.3V175.0M250.3 211.0V218.8M250.7 164.0V175.0M250.7 211.0V217.9M251.0 165.0V175.0M251.0 211.0V217.0M251.8 166.8V175.0M251.8 211.0V215.4M252.1 162.2V175.0M252.1 211.0V222.7M252.5 171.3V175.0M252.5 211.0V215.5M253.1 158.5V175.0M253.1 211.0V216.9M253.5 163.9V175.0M253.5 211.0V224.2M254.1 169.7V175.0M254.1 211.0V216.9M254.8 165.1V175.0M254.8 211.0V223.4M255.5 156.1V175.0M255.5 211.0V213.3M255.9 169.6V175.0M255.9 211.0V219.3M256.7 164.6V175.0M256.7 211.0V213.2M257.4 157.9V175.0M257.4 211.0V219.2M257.9 155.7V175.0M257.9 211.0V222.7M258.5 164.4V175.0M258.5 211.0V222.1M259.1 172.5V175.0M259.1 211.0V215.7M259.6 165.9V175.0M259.6 211.0V216.1M260.0 163.2V175.0M260.0 211.0V213.2M260.6 157.7V175.0M260.6 211.0V215.0M261.2 160.8V175.0M261.2 211.0V215.5M261.5 157.9V175.0M261.5 211.0V213.4M261.9 166.9V175.0M261.9 211.0V217.6M262.3 156.2V175.0M262.3 211.0V220.1M262.8 167.4V175.0M262.8 211.0V224.6M263.5 172.5V175.0M263.5 211.0V220.6M263.8 160.8V175.0M263.8 211.0V216.9M264.6 169.1V175.0M264.6 211.0V213.2M264.9 161.1V175.0M264.9 211.0V218.6M265.3 159.7V175.0M265.3 211.0V220.2M266.0 169.4V175.0M266.0 211.0V221.6M266.7 167.4V175.0M266.7 211.0V223.8M267.5 155.6V175.0M267.5 211.0V213.6M267.9 159.2V175.0M267.9 211.0V215.3M268.4 156.4V175.0M268.4 211.0V214.1M268.8 157.7V175.0M268.8 211.0V221.5M269.2 166.2V175.0M269.2 211.0V216.9M269.7 157.9V175.0M269.7 211.0V223.0M270.2 170.2V175.0M270.2 211.0V223.4M270.7 161.5V175.0M270.7 211.0V214.2M271.4 160.6V175.0M271.4 211.0V219.6M272.0 157.7V175.0M272.0 211.0V213.5M272.8 166.3V175.0M272.8 211.0V217.3M273.2 157.1V175.0M273.2 211.0V216.1M273.6 169.4V175.0M273.6 211.0V215.0M274.4 168.6V175.0M274.4 211.0V223.1M274.9 157.5V175.0M274.9 211.0V220.9M275.5 168.2V175.0M275.5 211.0V219.5M275.9 172.1V175.0M275.9 211.0V213.0M276.3 167.3V175.0M276.3 211.0V219.4M276.7 163.4V175.0M276.7 211.0V216.4M277.2 159.9V175.0M277.2 211.0V218.7M277.6 159.9V175.0M277.6 211.0V214.6M278.1 171.5V175.0M278.1 211.0V213.0M278.9 158.7V175.0M278.9 211.0V224.2M279.4 159.8V175.0M279.4 211.0V214.9M279.9 159.9V175.0M279.9 211.0V216.5M280.5 171.1V175.0M280.5 211.0V215.4M281.1 168.9V175.0M281.1 211.0V214.2M281.7 165.6V175.0M281.7 211.0V222.8M282.4 161.1V175.0M282.4 211.0V222.9M283.1 169.0V175.0M283.1 211.0V213.0M283.5 166.2V175.0M283.5 211.0V213.3M284.0 171.8V175.0M284.0 211.0V221.8M284.7 157.2V175.0M284.7 211.0V224.0M285.1 161.0V175.0M285.1 211.0V217.7M285.6 171.1V175.0M285.6 211.0V221.3M286.1 168.9V175.0M286.1 211.0V223.1M286.8 161.6V175.0M286.8 211.0V215.7M287.4 166.7V175.0M287.4 211.0V216.9M288.0 165.3V175.0M288.0 211.0V221.7M288.4 161.4V175.0M288.4 211.0V215.1M289.0 155.6V175.0M289.0 211.0V220.3M289.4 170.3V175.0M289.4 211.0V223.5M289.7 165.0V175.0M289.7 211.0V219.3M290.3 168.9V175.0M290.3 211.0V221.2M291.1 156.1V175.0M291.1 211.0V221.9M291.4 164.8V175.0M291.4 211.0V221.5M292.0 162.9V175.0M292.0 211.0V223.8M292.6 164.3V175.0M292.6 211.0V224.1M293.2 167.8V175.0M293.2 211.0V222.8M293.9 156.0V175.0M293.9 211.0V213.6M294.2 155.6V175.0M294.2 211.0V214.7M295.0 162.3V175.0M295.0 211.0V213.1M295.5 158.3V175.0M295.5 211.0V215.6M295.9 169.9V175.0M295.9 211.0V215.3M296.4 157.1V175.0M296.4 211.0V218.3M297.0 156.0V175.0M297.0 211.0V217.8M297.7 159.0V175.0M297.7 211.0V222.2M298.4 169.0V175.0M298.4 211.0V220.8M299.0 163.4V175.0M299.0 211.0V213.3M299.8 172.2V175.0M299.8 211.0V218.8M300.4 169.9V175.0M300.4 211.0V218.6M301.0 160.9V175.0M301.0 211.0V223.9M301.6 166.8V175.0M301.6 211.0V221.5M302.4 157.0V175.0M302.4 211.0V215.8M302.8 167.6V175.0M302.8 211.0V221.9M303.6 172.3V175.0M303.6 211.0V224.5M304.3 156.0V175.0M304.3 211.0V220.4M304.7 164.7V175.0M304.7 211.0V222.1M305.1 157.7V175.0M305.1 211.0V220.4M305.9 172.0V175.0M305.9 211.0V220.2M306.5 164.4V175.0M306.5 211.0V222.6M307.0 167.0V175.0M307.0 211.0V216.4M307.8 163.0V175.0M307.8 211.0V215.5M308.2 169.1V175.0M308.2 211.0V224.5M308.6 172.1V175.0M308.6 211.0V223.5M309.2 163.9V175.0M309.2 211.0V216.8M309.6 165.3V175.0M309.6 211.0V218.8M310.2 163.9V175.0M310.2 211.0V220.5M310.9 159.6V175.0M310.9 211.0V222.9M311.5 168.0V175.0M311.5 211.0V222.6M312.1 156.2V175.0M312.1 211.0V219.5M312.7 171.1V175.0M312.7 211.0V213.8M313.0 160.0V175.0M313.0 211.0V213.1M313.4 158.5V175.0M313.4 211.0V217.1M314.1 167.8V175.0M314.1 211.0V223.0M314.8 160.7V175.0M314.8 211.0V220.1M315.4 170.5V175.0M315.4 211.0V221.4M315.8 169.3V175.0M315.8 211.0V219.4M316.2 156.3V175.0M316.2 211.0V213.5M316.7 165.7V175.0M316.7 211.0V213.3M317.2 166.5V175.0M317.2 211.0V220.9M317.6 163.1V175.0M317.6 211.0V216.7M318.0 168.6V175.0M318.0 211.0V213.2M318.4 160.1V175.0M318.4 211.0V214.2M319.0 167.7V175.0M319.0 211.0V223.0M319.6 170.2V175.0M319.6 211.0V220.0M320.1 157.8V175.0M320.1 211.0V219.1M320.5 163.2V175.0M320.5 211.0V223.6M321.3 157.7V175.0M321.3 211.0V219.9M321.8 160.7V175.0M321.8 211.0V213.7M322.5 157.1V175.0M322.5 211.0V218.9M323.3 159.7V175.0M323.3 211.0V213.4M323.7 164.7V175.0M323.7 211.0V222.4M324.2 158.8V175.0M324.2 211.0V222.2M324.7 169.2V175.0M324.7 211.0V216.3M325.1 157.3V175.0M325.1 211.0V215.2M325.7 170.0V175.0M325.7 211.0V217.0M326.2 164.2V175.0M326.2 211.0V213.8M326.6 158.3V175.0M326.6 211.0V220.9M327.2 168.2V175.0M327.2 211.0V214.5M327.5 157.7V175.0M327.5 211.0V215.6M328.2 165.2V175.0M328.2 211.0V219.1M328.9 163.3V175.0M328.9 211.0V221.5M329.2 163.7V175.0M329.2 211.0V216.0M329.8 171.7V175.0M329.8 211.0V213.1M330.6 160.5V175.0M330.6 211.0V214.2M331.1 160.5V175.0M331.1 211.0V224.0M331.7 162.8V175.0M331.7 211.0V216.0M332.5 158.0V175.0M332.5 211.0V219.5M332.8 156.6V175.0M332.8 211.0V215.7M333.4 170.9V175.0M333.4 211.0V215.5M334.1 161.8V175.0M334.1 211.0V223.1M334.5 161.4V175.0M334.5 211.0V223.6M335.0 164.3V175.0M335.0 211.0V219.0M335.7 158.1V175.0M335.7 211.0V213.6M336.1 162.4V175.0M336.1 211.0V223.6M336.5 162.5V175.0M336.5 211.0V218.9M337.3 157.1V175.0M337.3 211.0V222.6M337.9 164.9V175.0M337.9 211.0V222.1M338.4 168.2V175.0M338.4 211.0V215.1M338.8 168.3V175.0M338.8 211.0V223.0M339.6 162.3V175.0M339.6 211.0V214.6M340.3 161.9V175.0M340.3 211.0V220.0M340.6 169.3V175.0M340.6 211.0V214.0M341.2 158.2V175.0M341.2 211.0V219.6M341.6 170.7V175.0M341.6 211.0V223.4M342.3 165.3V175.0M342.3 211.0V223.5M343.0 158.4V175.0M343.0 211.0V222.8M343.5 162.7V175.0M343.5 211.0V215.1M343.9 165.6V175.0M343.9 211.0V215.4M344.2 159.9V175.0M344.2 211.0V214.5M344.7 165.6V175.0M344.7 211.0V224.3M345.3 170.3V175.0M345.3 211.0V215.5M345.7 160.9V175.0M345.7 211.0V224.2M346.3 170.6V175.0M346.3 211.0V217.9M346.8 157.3V175.0M346.8 211.0V215.7M347.1 158.7V175.0M347.1 211.0V222.9M347.9 164.1V175.0M347.9 211.0V219.8M348.3 156.3V175.0M348.3 211.0V214.3M348.6 157.5V175.0M348.6 211.0V222.4M349.0 166.8V175.0M349.0 211.0V214.1M349.7 163.9V175.0M349.7 211.0V218.2M350.3 170.0V175.0M350.3 211.0V216.6M351.0 163.6V175.0M351.0 211.0V220.6M351.6 157.5V175.0M351.6 211.0V215.6M352.2 163.1V175.0M352.2 211.0V221.7M352.7 163.0V175.0M352.7 211.0V217.2M353.1 164.1V175.0M353.1 211.0V218.6M353.4 158.9V175.0M353.4 211.0V216.9M353.8 157.4V175.0M353.8 211.0V213.2M354.2 168.5V175.0M354.2 211.0V218.3M354.5 155.5V175.0M354.5 211.0V213.7M354.9 170.0V175.0M354.9 211.0V217.8M355.4 164.3V175.0M355.4 211.0V213.7M356.1 158.7V175.0M356.1 211.0V213.1M356.4 167.9V175.0M356.4 211.0V218.4M357.0 169.6V175.0M357.0 211.0V213.3M357.5 158.9V175.0M357.5 211.0V223.9M358.2 166.0V175.0M358.2 211.0V215.0M358.7 157.6V175.0M358.7 211.0V223.9M359.1 161.4V175.0M359.1 211.0V218.5M359.6 172.0V175.0M359.6 211.0V222.4M360.0 169.0V175.0M360.0 211.0V218.7M360.6 156.4V175.0M360.6 211.0V222.5M360.9 159.9V175.0M360.9 211.0V218.4M361.6 161.8V175.0M361.6 211.0V213.6M362.2 163.7V175.0M362.2 211.0V224.3M362.9 167.9V175.0M362.9 211.0V218.7M363.4 165.1V175.0M363.4 211.0V221.8M364.1 158.3V175.0M364.1 211.0V222.9M364.7 171.4V175.0M364.7 211.0V219.5M365.3 169.4V175.0M365.3 211.0V222.5M365.8 160.5V175.0M365.8 211.0V214.9M366.6 166.9V175.0M366.6 211.0V217.6M367.4 166.3V175.0M367.4 211.0V218.4M367.9 171.5V175.0M367.9 211.0V215.7M368.5 157.1V175.0M368.5 211.0V216.6M369.0 156.5V175.0M369.0 211.0V222.5M369.5 162.5V175.0M369.5 211.0V215.6M369.8 166.4V175.0M369.8 211.0V217.8M370.3 169.2V175.0M370.3 211.0V218.6M371.0 157.0V175.0M371.0 211.0V216.4M371.8 160.3V175.0M371.8 211.0V214.4M372.3 171.2V175.0M372.3 211.0V219.8M372.8 159.9V175.0M372.8 211.0V220.8M373.4 158.1V175.0M373.4 211.0V213.3M373.8 159.7V175.0M373.8 211.0V224.2M374.3 170.0V175.0M374.3 211.0V213.8M374.9 155.6V175.0M374.9 211.0V219.0M375.5 171.5V175.0M375.5 211.0V213.6M376.3 167.3V175.0M376.3 211.0V216.4M376.8 162.7V175.0M376.8 211.0V219.5M377.1 163.7V175.0M377.1 211.0V216.5M377.4 159.3V175.0M377.4 211.0V217.5M378.1 172.2V175.0M378.1 211.0V221.6M378.7 158.3V175.0M378.7 211.0V223.1M379.1 162.0V175.0M379.1 211.0V224.4M379.7 158.6V175.0M379.7 211.0V219.8M380.1 166.8V175.0M380.1 211.0V215.3M380.4 172.4V175.0M380.4 211.0V213.5M381.0 163.0V175.0M381.0 211.0V219.1M381.4 159.6V175.0M381.4 211.0V214.0M381.9 170.4V175.0M381.9 211.0V215.2M382.3 160.7V175.0M382.3 211.0V216.5M382.9 167.4V175.0M382.9 211.0V224.3M383.2 171.8V175.0M383.2 211.0V213.1M383.7 159.7V175.0M383.7 211.0V221.2M384.1 169.0V175.0M384.1 211.0V219.2M384.7 169.0V175.0M384.7 211.0V216.0M385.3 158.7V175.0M385.3 211.0V220.7M385.7 167.7V175.0M385.7 211.0V222.0M386.2 166.0V175.0M386.2 211.0V214.6M386.8 158.0V175.0M386.8 211.0V217.1M387.2 160.3V175.0M387.2 211.0V217.5M388.0 161.4V175.0M388.0 211.0V218.4M388.5 157.5V175.0M388.5 211.0V220.8M389.0 161.0V175.0M389.0 211.0V215.8M389.5 166.2V175.0M389.5 211.0V214.6M389.9 162.1V175.0M389.9 211.0V221.5M390.5 170.2V175.0M390.5 211.0V213.8M391.0 162.6V175.0M391.0 211.0V220.5M391.5 158.2V175.0M391.5 211.0V216.6M392.2 170.6V175.0M392.2 211.0V218.8M392.5 161.5V175.0M392.5 211.0V214.8M392.8 156.7V175.0M392.8 211.0V216.7M393.6 169.3V175.0M393.6 211.0V218.4M394.0 169.4V175.0M394.0 211.0V224.9M394.7 168.1V175.0M394.7 211.0V214.8M395.2 172.1V175.0M395.2 211.0V217.8M395.5 166.3V175.0M395.5 211.0V215.5M396.2 160.1V175.0M396.2 211.0V224.5M396.7 156.6V175.0M396.7 211.0V221.9M397.3 166.3V175.0M397.3 211.0V221.6M397.6 157.6V175.0M397.6 211.0V224.2M398.2 155.8V175.0M398.2 211.0V216.2M398.6 165.1V175.0M398.6 211.0V221.2M399.1 165.4V175.0M399.1 211.0V222.8M399.7 170.4V175.0M399.7 211.0V216.9M400.4 171.2V175.0M400.4 211.0V216.8M400.7 157.6V175.0M400.7 211.0V223.0M401.3 163.4V175.0M401.3 211.0V217.4M401.8 162.2V175.0M401.8 211.0V216.4M402.6 162.8V175.0M402.6 211.0V223.1M403.3 172.0V175.0M403.3 211.0V223.6M404.0 170.5V175.0M404.0 211.0V214.3M404.6 160.6V175.0M404.6 211.0V224.1M405.4 163.3V175.0M405.4 211.0V214.6M406.0 155.8V175.0M406.0 211.0V214.9M406.8 169.5V175.0M406.8 211.0V223.6M407.1 157.7V175.0M407.1 211.0V214.0M407.8 169.2V175.0M407.8 211.0V217.4M408.4 164.1V175.0M408.4 211.0V216.2M408.9 169.7V175.0M408.9 211.0V216.7M409.7 163.8V175.0M409.7 211.0V213.7M410.2 168.4V175.0M410.2 211.0V216.7M410.9 157.1V175.0M410.9 211.0V221.6M411.6 168.0V175.0M411.6 211.0V223.9M412.3 165.9V175.0M412.3 211.0V216.0M412.7 161.8V175.0M412.7 211.0V215.0M413.3 156.8V175.0M413.3 211.0V223.9M413.8 157.3V175.0M413.8 211.0V218.6M414.2 163.2V175.0M414.2 211.0V223.7M414.6 168.3V175.0M414.6 211.0V217.6M415.0 158.2V175.0M415.0 211.0V224.8" stroke="#90979e" stroke-width="0.8" fill="none"/>
<g fill="#858b93"><circle cx="88.9" cy="223.7" r="1.3"/><circle cx="89.7" cy="162.3" r="1.3"/><circle cx="91.1" cy="163.4" r="1.3"/><circle cx="91.1" cy="214.7" r="1.3"/><circle cx="91.9" cy="224.6" r="1.3"/><circle cx="92.4" cy="169.0" r="1.3"/><circle cx="93.1" cy="161.4" r="1.3"/><circle cx="93.7" cy="221.3" r="1.3"/><circle cx="94.4" cy="159.9" r="1.3"/><circle cx="94.9" cy="218.1" r="1.3"/><circle cx="95.7" cy="220.1" r="1.3"/><circle cx="96.8" cy="216.9" r="1.3"/><circle cx="97.1" cy="215.8" r="1.3"/><circle cx="97.4" cy="164.7" r="1.3"/><circle cx="97.4" cy="223.1" r="1.3"/><circle cx="98.4" cy="165.7" r="1.3"/><circle cx="101.3" cy="160.3" r="1.3"/><circle cx="101.8" cy="220.9" r="1.3"/><circle cx="106.5" cy="165.1" r="1.3"/><circle cx="106.5" cy="220.1" r="1.3"/><circle cx="110.8" cy="172.4" r="1.3"/><circle cx="111.8" cy="164.2" r="1.3"/><circle cx="113.9" cy="217.8" r="1.3"/><circle cx="114.8" cy="165.8" r="1.3"/><circle cx="115.5" cy="213.4" r="1.3"/><circle cx="116.9" cy="217.3" r="1.3"/><circle cx="117.5" cy="163.1" r="1.3"/><circle cx="117.5" cy="223.3" r="1.3"/><circle cx="118.0" cy="214.9" r="1.3"/><circle cx="120.5" cy="219.9" r="1.3"/><circle cx="123.0" cy="168.2" r="1.3"/><circle cx="124.4" cy="171.1" r="1.3"/><circle cx="129.3" cy="155.6" r="1.3"/><circle cx="129.9" cy="220.2" r="1.3"/><circle cx="132.3" cy="160.6" r="1.3"/><circle cx="132.6" cy="223.2" r="1.3"/><circle cx="133.1" cy="221.7" r="1.3"/><circle cx="134.7" cy="158.0" r="1.3"/><circle cx="135.4" cy="166.1" r="1.3"/><circle cx="135.4" cy="216.4" r="1.3"/><circle cx="136.1" cy="168.5" r="1.3"/><circle cx="138.2" cy="223.0" r="1.3"/><circle cx="140.4" cy="220.0" r="1.3"/><circle cx="142.2" cy="171.4" r="1.3"/><circle cx="142.2" cy="217.6" r="1.3"/><circle cx="144.0" cy="218.0" r="1.3"/><circle cx="144.5" cy="225.0" r="1.3"/><circle cx="145.8" cy="169.7" r="1.3"/><circle cx="147.6" cy="219.4" r="1.3"/><circle cx="148.0" cy="160.6" r="1.3"/><circle cx="148.0" cy="218.4" r="1.3"/><circle cx="149.0" cy="213.0" r="1.3"/><circle cx="152.0" cy="219.8" r="1.3"/><circle cx="153.1" cy="161.4" r="1.3"/><circle cx="154.0" cy="168.1" r="1.3"/><circle cx="155.7" cy="223.8" r="1.3"/><circle cx="157.2" cy="172.3" r="1.3"/><circle cx="157.7" cy="156.4" r="1.3"/><circle cx="161.0" cy="169.5" r="1.3"/><circle cx="161.7" cy="171.4" r="1.3"/><circle cx="162.1" cy="215.6" r="1.3"/><circle cx="164.0" cy="219.0" r="1.3"/><circle cx="165.8" cy="218.6" r="1.3"/><circle cx="166.4" cy="169.2" r="1.3"/><circle cx="166.4" cy="218.2" r="1.3"/><circle cx="167.3" cy="217.7" r="1.3"/><circle cx="168.5" cy="171.6" r="1.3"/><circle cx="168.8" cy="162.6" r="1.3"/><circle cx="168.8" cy="213.0" r="1.3"/><circle cx="169.9" cy="215.2" r="1.3"/><circle cx="171.1" cy="169.2" r="1.3"/><circle cx="172.3" cy="219.9" r="1.3"/><circle cx="174.4" cy="217.4" r="1.3"/><circle cx="175.0" cy="219.6" r="1.3"/><circle cx="175.8" cy="215.9" r="1.3"/><circle cx="176.7" cy="156.2" r="1.3"/><circle cx="177.0" cy="169.6" r="1.3"/><circle cx="177.6" cy="224.3" r="1.3"/><circle cx="179.3" cy="218.0" r="1.3"/><circle cx="180.6" cy="162.8" r="1.3"/><circle cx="182.0" cy="216.2" r="1.3"/><circle cx="183.7" cy="157.9" r="1.3"/><circle cx="183.7" cy="222.3" r="1.3"/><circle cx="184.4" cy="171.7" r="1.3"/><circle cx="184.4" cy="217.0" r="1.3"/><circle cx="185.0" cy="224.3" r="1.3"/><circle cx="185.6" cy="170.4" r="1.3"/><circle cx="188.1" cy="169.5" r="1.3"/><circle cx="190.2" cy="167.3" r="1.3"/><circle cx="190.2" cy="222.1" r="1.3"/><circle cx="191.9" cy="168.7" r="1.3"/><circle cx="191.9" cy="218.7" r="1.3"/><circle cx="193.9" cy="224.1" r="1.3"/><circle cx="194.4" cy="161.9" r="1.3"/><circle cx="195.5" cy="159.8" r="1.3"/><circle cx="196.8" cy="222.8" r="1.3"/><circle cx="197.5" cy="157.8" r="1.3"/><circle cx="197.5" cy="222.0" r="1.3"/><circle cx="198.2" cy="166.2" r="1.3"/><circle cx="201.5" cy="213.4" r="1.3"/><circle cx="202.0" cy="171.8" r="1.3"/><circle cx="202.6" cy="219.7" r="1.3"/><circle cx="203.8" cy="222.4" r="1.3"/><circle cx="204.8" cy="213.7" r="1.3"/><circle cx="205.2" cy="222.8" r="1.3"/><circle cx="205.6" cy="164.9" r="1.3"/><circle cx="206.5" cy="218.7" r="1.3"/><circle cx="207.3" cy="169.0" r="1.3"/><circle cx="207.8" cy="224.0" r="1.3"/><circle cx="208.2" cy="163.7" r="1.3"/><circle cx="208.6" cy="164.1" r="1.3"/><circle cx="210.7" cy="170.3" r="1.3"/><circle cx="211.9" cy="172.0" r="1.3"/><circle cx="212.2" cy="169.7" r="1.3"/><circle cx="213.4" cy="169.6" r="1.3"/><circle cx="214.7" cy="218.6" r="1.3"/><circle cx="215.1" cy="213.1" r="1.3"/><circle cx="216.3" cy="223.4" r="1.3"/><circle cx="216.9" cy="170.2" r="1.3"/><circle cx="218.4" cy="214.0" r="1.3"/><circle cx="221.2" cy="215.1" r="1.3"/><circle cx="221.9" cy="214.5" r="1.3"/><circle cx="223.3" cy="170.1" r="1.3"/><circle cx="223.3" cy="216.0" r="1.3"/><circle cx="223.8" cy="171.4" r="1.3"/><circle cx="224.1" cy="222.9" r="1.3"/><circle cx="224.7" cy="214.6" r="1.3"/><circle cx="225.5" cy="213.1" r="1.3"/><circle cx="227.0" cy="219.2" r="1.3"/><circle cx="227.5" cy="155.8" r="1.3"/><circle cx="227.9" cy="214.5" r="1.3"/><circle cx="229.3" cy="214.3" r="1.3"/><circle cx="232.3" cy="169.3" r="1.3"/><circle cx="232.9" cy="160.0" r="1.3"/><circle cx="235.9" cy="160.3" r="1.3"/><circle cx="237.4" cy="170.6" r="1.3"/><circle cx="237.8" cy="215.4" r="1.3"/><circle cx="238.2" cy="158.8" r="1.3"/><circle cx="238.6" cy="165.2" r="1.3"/><circle cx="240.9" cy="166.4" r="1.3"/><circle cx="241.6" cy="219.6" r="1.3"/><circle cx="242.7" cy="169.3" r="1.3"/><circle cx="242.7" cy="214.4" r="1.3"/><circle cx="244.9" cy="169.3" r="1.3"/><circle cx="245.7" cy="217.5" r="1.3"/><circle cx="246.9" cy="163.3" r="1.3"/><circle cx="249.1" cy="213.9" r="1.3"/><circle cx="251.0" cy="165.0" r="1.3"/><circle cx="251.8" cy="215.4" r="1.3"/><circle cx="253.1" cy="158.5" r="1.3"/><circle cx="253.5" cy="224.2" r="1.3"/><circle cx="254.1" cy="216.9" r="1.3"/><circle cx="254.8" cy="223.4" r="1.3"/><circle cx="255.9" cy="169.6" r="1.3"/><circle cx="255.9" cy="219.3" r="1.3"/><circle cx="256.7" cy="164.6" r="1.3"/><circle cx="257.4" cy="219.2" r="1.3"/><circle cx="257.9" cy="155.7" r="1.3"/><circle cx="259.1" cy="215.7" r="1.3"/><circle cx="260.0" cy="213.2" r="1.3"/><circle cx="260.6" cy="157.7" r="1.3"/><circle cx="261.5" cy="157.9" r="1.3"/><circle cx="262.3" cy="156.2" r="1.3"/><circle cx="262.3" cy="220.1" r="1.3"/><circle cx="262.8" cy="167.4" r="1.3"/><circle cx="263.5" cy="220.6" r="1.3"/><circle cx="264.9" cy="161.1" r="1.3"/><circle cx="265.3" cy="159.7" r="1.3"/><circle cx="266.0" cy="169.4" r="1.3"/><circle cx="266.7" cy="167.4" r="1.3"/><circle cx="267.5" cy="155.6" r="1.3"/><circle cx="267.5" cy="213.6" r="1.3"/><circle cx="272.8" cy="166.3" r="1.3"/><circle cx="273.2" cy="157.1" r="1.3"/><circle cx="274.9" cy="157.5" r="1.3"/><circle cx="276.3" cy="167.3" r="1.3"/><circle cx="276.3" cy="219.4" r="1.3"/><circle cx="276.7" cy="216.4" r="1.3"/><circle cx="277.6" cy="159.9" r="1.3"/><circle cx="278.1" cy="171.5" r="1.3"/><circle cx="278.9" cy="158.7" r="1.3"/><circle cx="279.4" cy="159.8" r="1.3"/><circle cx="280.5" cy="171.1" r="1.3"/><circle cx="281.1" cy="214.2" r="1.3"/><circle cx="283.1" cy="169.0" r="1.3"/><circle cx="284.0" cy="221.8" r="1.3"/><circle cx="284.7" cy="157.2" r="1.3"/><circle cx="285.1" cy="161.0" r="1.3"/><circle cx="285.6" cy="221.3" r="1.3"/><circle cx="286.8" cy="215.7" r="1.3"/><circle cx="287.4" cy="166.7" r="1.3"/><circle cx="288.0" cy="165.3" r="1.3"/><circle cx="289.0" cy="155.6" r="1.3"/><circle cx="289.4" cy="170.3" r="1.3"/><circle cx="290.3" cy="168.9" r="1.3"/><circle cx="291.1" cy="156.1" r="1.3"/><circle cx="291.4" cy="164.8" r="1.3"/><circle cx="292.0" cy="223.8" r="1.3"/><circle cx="292.6" cy="164.3" r="1.3"/><circle cx="293.2" cy="167.8" r="1.3"/><circle cx="293.2" cy="222.8" r="1.3"/><circle cx="293.9" cy="156.0" r="1.3"/><circle cx="294.2" cy="155.6" r="1.3"/><circle cx="294.2" cy="214.7" r="1.3"/><circle cx="295.0" cy="162.3" r="1.3"/><circle cx="295.5" cy="215.6" r="1.3"/><circle cx="295.9" cy="169.9" r="1.3"/><circle cx="297.0" cy="217.8" r="1.3"/><circle cx="298.4" cy="169.0" r="1.3"/><circle cx="299.8" cy="172.2" r="1.3"/><circle cx="301.0" cy="160.9" r="1.3"/><circle cx="302.8" cy="167.6" r="1.3"/><circle cx="305.1" cy="220.4" r="1.3"/><circle cx="306.5" cy="222.6" r="1.3"/><circle cx="307.8" cy="215.5" r="1.3"/><circle cx="312.7" cy="171.1" r="1.3"/><circle cx="313.0" cy="160.0" r="1.3"/><circle cx="313.0" cy="213.1" r="1.3"/><circle cx="313.4" cy="158.5" r="1.3"/><circle cx="314.1" cy="167.8" r="1.3"/><circle cx="315.4" cy="170.5" r="1.3"/><circle cx="317.6" cy="163.1" r="1.3"/><circle cx="318.0" cy="168.6" r="1.3"/><circle cx="318.4" cy="160.1" r="1.3"/><circle cx="319.0" cy="167.7" r="1.3"/><circle cx="319.6" cy="220.0" r="1.3"/><circle cx="320.5" cy="163.2" r="1.3"/><circle cx="321.3" cy="157.7" r="1.3"/><circle cx="321.8" cy="213.7" r="1.3"/><circle cx="323.7" cy="164.7" r="1.3"/><circle cx="325.1" cy="157.3" r="1.3"/><circle cx="326.2" cy="164.2" r="1.3"/><circle cx="327.2" cy="168.2" r="1.3"/><circle cx="327.5" cy="215.6" r="1.3"/><circle cx="328.2" cy="165.2" r="1.3"/><circle cx="329.2" cy="163.7" r="1.3"/><circle cx="329.8" cy="171.7" r="1.3"/><circle cx="330.6" cy="160.5" r="1.3"/><circle cx="331.7" cy="162.8" r="1.3"/><circle cx="335.7" cy="213.6" r="1.3"/><circle cx="336.5" cy="162.5" r="1.3"/><circle cx="337.3" cy="157.1" r="1.3"/><circle cx="337.9" cy="222.1" r="1.3"/><circle cx="338.4" cy="168.2" r="1.3"/><circle cx="338.8" cy="223.0" r="1.3"/><circle cx="341.6" cy="223.4" r="1.3"/><circle cx="343.5" cy="162.7" r="1.3"/><circle cx="343.9" cy="165.6" r="1.3"/><circle cx="344.2" cy="159.9" r="1.3"/><circle cx="345.7" cy="160.9" r="1.3"/><circle cx="346.3" cy="170.6" r="1.3"/><circle cx="346.8" cy="215.7" r="1.3"/><circle cx="348.3" cy="214.3" r="1.3"/><circle cx="348.6" cy="157.5" r="1.3"/><circle cx="349.0" cy="166.8" r="1.3"/><circle cx="350.3" cy="170.0" r="1.3"/><circle cx="352.2" cy="163.1" r="1.3"/><circle cx="352.7" cy="163.0" r="1.3"/><circle cx="353.4" cy="158.9" r="1.3"/><circle cx="353.8" cy="213.2" r="1.3"/><circle cx="354.2" cy="168.5" r="1.3"/><circle cx="354.2" cy="218.3" r="1.3"/><circle cx="355.4" cy="164.3" r="1.3"/><circle cx="357.0" cy="213.3" r="1.3"/><circle cx="359.1" cy="161.4" r="1.3"/><circle cx="359.6" cy="172.0" r="1.3"/><circle cx="359.6" cy="222.4" r="1.3"/><circle cx="360.0" cy="169.0" r="1.3"/><circle cx="360.6" cy="156.4" r="1.3"/><circle cx="360.6" cy="222.5" r="1.3"/><circle cx="360.9" cy="159.9" r="1.3"/><circle cx="361.6" cy="213.6" r="1.3"/><circle cx="363.4" cy="165.1" r="1.3"/><circle cx="363.4" cy="221.8" r="1.3"/><circle cx="364.1" cy="158.3" r="1.3"/><circle cx="364.1" cy="222.9" r="1.3"/><circle cx="364.7" cy="171.4" r="1.3"/><circle cx="365.3" cy="169.4" r="1.3"/><circle cx="366.6" cy="217.6" r="1.3"/><circle cx="369.5" cy="215.6" r="1.3"/><circle cx="370.3" cy="169.2" r="1.3"/><circle cx="371.0" cy="157.0" r="1.3"/><circle cx="371.0" cy="216.4" r="1.3"/><circle cx="371.8" cy="214.4" r="1.3"/><circle cx="373.4" cy="158.1" r="1.3"/><circle cx="374.3" cy="170.0" r="1.3"/><circle cx="375.5" cy="213.6" r="1.3"/><circle cx="376.3" cy="216.4" r="1.3"/><circle cx="376.8" cy="219.5" r="1.3"/><circle cx="377.1" cy="163.7" r="1.3"/><circle cx="377.1" cy="216.5" r="1.3"/><circle cx="380.4" cy="213.5" r="1.3"/><circle cx="381.0" cy="163.0" r="1.3"/><circle cx="381.4" cy="159.6" r="1.3"/><circle cx="382.3" cy="216.5" r="1.3"/><circle cx="382.9" cy="224.3" r="1.3"/><circle cx="383.2" cy="171.8" r="1.3"/><circle cx="384.1" cy="169.0" r="1.3"/><circle cx="384.1" cy="219.2" r="1.3"/><circle cx="384.7" cy="169.0" r="1.3"/><circle cx="384.7" cy="216.0" r="1.3"/><circle cx="385.3" cy="158.7" r="1.3"/><circle cx="385.3" cy="220.7" r="1.3"/><circle cx="385.7" cy="222.0" r="1.3"/><circle cx="386.2" cy="166.0" r="1.3"/><circle cx="386.2" cy="214.6" r="1.3"/><circle cx="386.8" cy="217.1" r="1.3"/><circle cx="387.2" cy="217.5" r="1.3"/><circle cx="388.0" cy="218.4" r="1.3"/><circle cx="389.0" cy="215.8" r="1.3"/><circle cx="392.5" cy="161.5" r="1.3"/><circle cx="392.8" cy="216.7" r="1.3"/><circle cx="393.6" cy="218.4" r="1.3"/><circle cx="394.0" cy="169.4" r="1.3"/><circle cx="394.0" cy="224.9" r="1.3"/><circle cx="395.2" cy="172.1" r="1.3"/><circle cx="395.2" cy="217.8" r="1.3"/><circle cx="397.6" cy="157.6" r="1.3"/><circle cx="398.2" cy="155.8" r="1.3"/><circle cx="398.2" cy="216.2" r="1.3"/><circle cx="398.6" cy="165.1" r="1.3"/><circle cx="399.1" cy="222.8" r="1.3"/><circle cx="399.7" cy="216.9" r="1.3"/><circle cx="400.4" cy="216.8" r="1.3"/><circle cx="400.7" cy="157.6" r="1.3"/><circle cx="400.7" cy="223.0" r="1.3"/><circle cx="404.0" cy="170.5" r="1.3"/><circle cx="404.0" cy="214.3" r="1.3"/><circle cx="404.6" cy="160.6" r="1.3"/><circle cx="407.8" cy="169.2" r="1.3"/><circle cx="408.4" cy="216.2" r="1.3"/><circle cx="408.9" cy="169.7" r="1.3"/><circle cx="410.2" cy="216.7" r="1.3"/><circle cx="410.9" cy="157.1" r="1.3"/><circle cx="411.6" cy="223.9" r="1.3"/><circle cx="412.7" cy="215.0" r="1.3"/></g>
<line x1="133.5" y1="170" x2="133.5" y2="142.8" stroke="#8a9098" stroke-width="1"/>
<circle cx="133.5" cy="142.8" r="1.2" fill="#8a9098"/>
<line x1="146.5" y1="170" x2="146.5" y2="125.5" stroke="#8a9098" stroke-width="1"/>
<circle cx="146.5" cy="125.5" r="1.2" fill="#8a9098"/>
<line x1="155" y1="170" x2="155" y2="143.5" stroke="#c8cad2" stroke-width="1"/>
<circle cx="155" cy="143.5" r="1.2" fill="#c8cad2"/>
<line x1="157.3" y1="170" x2="157.3" y2="135.4" stroke="#c8cad2" stroke-width="1"/>
<circle cx="157.3" cy="135.4" r="1.2" fill="#c8cad2"/>
<line x1="170" y1="170" x2="170" y2="122.7" stroke="#c8cad2" stroke-width="1"/>
<circle cx="170" cy="122.7" r="1.2" fill="#c8cad2"/>
<line x1="175.3" y1="170" x2="175.3" y2="122" stroke="#c8cad2" stroke-width="1"/>
<circle cx="175.3" cy="122" r="1.2" fill="#c8cad2"/>
<line x1="180.4" y1="170" x2="180.4" y2="97.3" stroke="#c8cad2" stroke-width="1"/>
<circle cx="180.4" cy="97.3" r="1.2" fill="#c8cad2"/>
<line x1="195.6" y1="170" x2="195.6" y2="132.6" stroke="#c8cad2" stroke-width="1"/>
<circle cx="195.6" cy="132.6" r="1.2" fill="#c8cad2"/>
<line x1="109.5" y1="170" x2="109.5" y2="153.4" stroke="#c8cad2" stroke-width="1"/>
<circle cx="109.5" cy="153.4" r="1.2" fill="#c8cad2"/>
<line x1="185.7" y1="170" x2="185.7" y2="149.2" stroke="#8a9098" stroke-width="1"/>
<circle cx="185.7" cy="149.2" r="1.2" fill="#8a9098"/>
<line x1="165.4" y1="170" x2="165.4" y2="151.5" stroke="#8a9098" stroke-width="1"/>
<circle cx="165.4" cy="151.5" r="1.2" fill="#8a9098"/>
<line x1="93.8" y1="170" x2="93.8" y2="155" stroke="#8a9098" stroke-width="1"/>
<circle cx="93.8" cy="155" r="1.2" fill="#8a9098"/>
<line x1="210.8" y1="170" x2="210.8" y2="141.2" stroke="#c8cad2" stroke-width="1"/>
<circle cx="210.8" cy="141.2" r="1.2" fill="#c8cad2"/>
<line x1="223" y1="170" x2="223" y2="148" stroke="#8a9098" stroke-width="1"/>
<circle cx="223" cy="148" r="1.2" fill="#8a9098"/>
<line x1="239.6" y1="170" x2="239.6" y2="135.4" stroke="#c8cad2" stroke-width="1"/>
<circle cx="239.6" cy="135.4" r="1.2" fill="#c8cad2"/>
<line x1="270.3" y1="170" x2="270.3" y2="133" stroke="#c8cad2" stroke-width="1"/>
<circle cx="270.3" cy="133" r="1.2" fill="#c8cad2"/>
<line x1="273.5" y1="170" x2="273.5" y2="140" stroke="#8a9098" stroke-width="1"/>
<circle cx="273.5" cy="140" r="1.2" fill="#8a9098"/>
<line x1="288.1" y1="170" x2="288.1" y2="134.2" stroke="#c8cad2" stroke-width="1"/>
<circle cx="288.1" cy="134.2" r="1.2" fill="#c8cad2"/>
<line x1="292.7" y1="170" x2="292.7" y2="137.7" stroke="#c8cad2" stroke-width="1"/>
<circle cx="292.7" cy="137.7" r="1.2" fill="#c8cad2"/>
<line x1="304.2" y1="170" x2="304.2" y2="144.6" stroke="#c8cad2" stroke-width="1"/>
<circle cx="304.2" cy="144.6" r="1.2" fill="#c8cad2"/>
<line x1="281.2" y1="170" x2="281.2" y2="144.6" stroke="#8a9098" stroke-width="1"/>
<circle cx="281.2" cy="144.6" r="1.2" fill="#8a9098"/>
<line x1="214.2" y1="170" x2="214.2" y2="153.8" stroke="#8a9098" stroke-width="1"/>
<circle cx="214.2" cy="153.8" r="1.2" fill="#8a9098"/>
<line x1="324.7" y1="170" x2="324.7" y2="102.7" stroke="#c8cad2" stroke-width="1"/>
<circle cx="324.7" cy="102.7" r="1.2" fill="#c8cad2"/>
<line x1="387.7" y1="170" x2="387.7" y2="70.4" stroke="#c8cad2" stroke-width="1"/>
<circle cx="387.7" cy="70.4" r="1.2" fill="#c8cad2"/>
<line x1="380.3" y1="170" x2="380.3" y2="128.1" stroke="#c8cad2" stroke-width="1"/>
<circle cx="380.3" cy="128.1" r="1.2" fill="#c8cad2"/>
<line x1="359.3" y1="170" x2="359.3" y2="140.8" stroke="#c8cad2" stroke-width="1"/>
<circle cx="359.3" cy="140.8" r="1.2" fill="#c8cad2"/>
<line x1="365.8" y1="170" x2="365.8" y2="138.5" stroke="#c8cad2" stroke-width="1"/>
<circle cx="365.8" cy="138.5" r="1.2" fill="#c8cad2"/>
<line x1="413.5" y1="170" x2="413.5" y2="146.5" stroke="#c8cad2" stroke-width="1"/>
<circle cx="413.5" cy="146.5" r="1.2" fill="#c8cad2"/>
<line x1="403.9" y1="170" x2="403.9" y2="150" stroke="#8a9098" stroke-width="1"/>
<circle cx="403.9" cy="150" r="1.2" fill="#8a9098"/>
<line x1="361.8" y1="170" x2="361.8" y2="150" stroke="#8a9098" stroke-width="1"/>
<circle cx="361.8" cy="150" r="1.2" fill="#8a9098"/>
<line x1="384.2" y1="170" x2="384.2" y2="152.3" stroke="#8a9098" stroke-width="1"/>
<circle cx="384.2" cy="152.3" r="1.2" fill="#8a9098"/>
<line x1="371.5" y1="170" x2="371.5" y2="147.7" stroke="#c8cad2" stroke-width="1"/>
<circle cx="371.5" cy="147.7" r="1.2" fill="#c8cad2"/>
<line x1="101" y1="170" x2="101" y2="150" stroke="#8a9098" stroke-width="1"/>
<circle cx="101" cy="150" r="1.2" fill="#8a9098"/>
<line x1="120" y1="170" x2="120" y2="151" stroke="#8a9098" stroke-width="1"/>
<circle cx="120" cy="151" r="1.2" fill="#8a9098"/>
<line x1="128" y1="170" x2="128" y2="149" stroke="#c8cad2" stroke-width="1"/>
<circle cx="128" cy="149" r="1.2" fill="#c8cad2"/>
<line x1="140" y1="170" x2="140" y2="150" stroke="#8a9098" stroke-width="1"/>
<circle cx="140" cy="150" r="1.2" fill="#8a9098"/>
<line x1="200" y1="170" x2="200" y2="150" stroke="#8a9098" stroke-width="1"/>
<circle cx="200" cy="150" r="1.2" fill="#8a9098"/>
<line x1="230" y1="170" x2="230" y2="151" stroke="#8a9098" stroke-width="1"/>
<circle cx="230" cy="151" r="1.2" fill="#8a9098"/>
<line x1="248" y1="170" x2="248" y2="149" stroke="#c8cad2" stroke-width="1"/>
<circle cx="248" cy="149" r="1.2" fill="#c8cad2"/>
<line x1="255" y1="170" x2="255" y2="150" stroke="#8a9098" stroke-width="1"/>
<circle cx="255" cy="150" r="1.2" fill="#8a9098"/>
<line x1="300" y1="170" x2="300" y2="151" stroke="#8a9098" stroke-width="1"/>
<circle cx="300" cy="151" r="1.2" fill="#8a9098"/>
<line x1="315" y1="170" x2="315" y2="148" stroke="#8a9098" stroke-width="1"/>
<circle cx="315" cy="148" r="1.2" fill="#8a9098"/>
<line x1="335" y1="170" x2="335" y2="150" stroke="#8a9098" stroke-width="1"/>
<circle cx="335" cy="150" r="1.2" fill="#8a9098"/>
<line x1="345" y1="170" x2="345" y2="149" stroke="#c8cad2" stroke-width="1"/>
<circle cx="345" cy="149" r="1.2" fill="#c8cad2"/>
<line x1="352" y1="170" x2="352" y2="150" stroke="#8a9098" stroke-width="1"/>
<circle cx="352" cy="150" r="1.2" fill="#8a9098"/>
<line x1="395" y1="170" x2="395" y2="149" stroke="#8a9098" stroke-width="1"/>
<circle cx="395" cy="149" r="1.2" fill="#8a9098"/>
<line x1="408" y1="170" x2="408" y2="151" stroke="#8a9098" stroke-width="1"/>
<circle cx="408" cy="151" r="1.2" fill="#8a9098"/>
<line x1="96.7" y1="210" x2="96.7" y2="245.8" stroke="#c8cad2" stroke-width="1"/>
<circle cx="96.7" cy="245.8" r="1.2" fill="#c8cad2"/>
<line x1="152.5" y1="210" x2="152.5" y2="307.7" stroke="#c8cad2" stroke-width="1"/>
<circle cx="152.5" cy="307.7" r="1.2" fill="#c8cad2"/>
<line x1="157" y1="210" x2="157" y2="246" stroke="#8a9098" stroke-width="1"/>
<circle cx="157" cy="246" r="1.2" fill="#8a9098"/>
<line x1="163" y1="210" x2="163" y2="250.4" stroke="#8a9098" stroke-width="1"/>
<circle cx="163" cy="250.4" r="1.2" fill="#8a9098"/>
<line x1="184.2" y1="210" x2="184.2" y2="288.5" stroke="#c8cad2" stroke-width="1"/>
<circle cx="184.2" cy="288.5" r="1.2" fill="#c8cad2"/>
<line x1="131.3" y1="210" x2="131.3" y2="229.8" stroke="#8a9098" stroke-width="1"/>
<circle cx="131.3" cy="229.8" r="1.2" fill="#8a9098"/>
<line x1="192.5" y1="210" x2="192.5" y2="251" stroke="#c8cad2" stroke-width="1"/>
<circle cx="192.5" cy="251" r="1.2" fill="#c8cad2"/>
<line x1="201.2" y1="210" x2="201.2" y2="251" stroke="#c8cad2" stroke-width="1"/>
<circle cx="201.2" cy="251" r="1.2" fill="#c8cad2"/>
<line x1="209.8" y1="210" x2="209.8" y2="231.7" stroke="#8a9098" stroke-width="1"/>
<circle cx="209.8" cy="231.7" r="1.2" fill="#8a9098"/>
<line x1="216.5" y1="210" x2="216.5" y2="230.8" stroke="#8a9098" stroke-width="1"/>
<circle cx="216.5" cy="230.8" r="1.2" fill="#8a9098"/>
<line x1="228" y1="210" x2="228" y2="228.8" stroke="#8a9098" stroke-width="1"/>
<circle cx="228" cy="228.8" r="1.2" fill="#8a9098"/>
<line x1="234.8" y1="210" x2="234.8" y2="233.7" stroke="#c8cad2" stroke-width="1"/>
<circle cx="234.8" cy="233.7" r="1.2" fill="#c8cad2"/>
<line x1="261.7" y1="210" x2="261.7" y2="244.2" stroke="#c8cad2" stroke-width="1"/>
<circle cx="261.7" cy="244.2" r="1.2" fill="#c8cad2"/>
<line x1="286.7" y1="210" x2="286.7" y2="280.8" stroke="#c8cad2" stroke-width="1"/>
<circle cx="286.7" cy="280.8" r="1.2" fill="#c8cad2"/>
<line x1="293.5" y1="210" x2="293.5" y2="229.6" stroke="#8a9098" stroke-width="1"/>
<circle cx="293.5" cy="229.6" r="1.2" fill="#8a9098"/>
<line x1="337.9" y1="210" x2="337.9" y2="251" stroke="#c8cad2" stroke-width="1"/>
<circle cx="337.9" cy="251" r="1.2" fill="#c8cad2"/>
<line x1="347.9" y1="210" x2="347.9" y2="244.4" stroke="#c8cad2" stroke-width="1"/>
<circle cx="347.9" cy="244.4" r="1.2" fill="#c8cad2"/>
<line x1="366.2" y1="210" x2="366.2" y2="275.4" stroke="#c8cad2" stroke-width="1"/>
<circle cx="366.2" cy="275.4" r="1.2" fill="#c8cad2"/>
<line x1="370.2" y1="210" x2="370.2" y2="252.5" stroke="#c8cad2" stroke-width="1"/>
<circle cx="370.2" cy="252.5" r="1.2" fill="#c8cad2"/>
<line x1="373.7" y1="210" x2="373.7" y2="253.8" stroke="#c8cad2" stroke-width="1"/>
<circle cx="373.7" cy="253.8" r="1.2" fill="#c8cad2"/>
<line x1="390.4" y1="210" x2="390.4" y2="252.5" stroke="#c8cad2" stroke-width="1"/>
<circle cx="390.4" cy="252.5" r="1.2" fill="#c8cad2"/>
<line x1="403.9" y1="210" x2="403.9" y2="268.7" stroke="#c8cad2" stroke-width="1"/>
<circle cx="403.9" cy="268.7" r="1.2" fill="#c8cad2"/>
<line x1="409.2" y1="210" x2="409.2" y2="237.7" stroke="#c8cad2" stroke-width="1"/>
<circle cx="409.2" cy="237.7" r="1.2" fill="#c8cad2"/>
<line x1="124.2" y1="210" x2="124.2" y2="296" stroke="#c8cad2" stroke-width="1"/>
<circle cx="124.2" cy="296" r="1.2" fill="#c8cad2"/>
<line x1="321.2" y1="210" x2="321.2" y2="288.9" stroke="#c8cad2" stroke-width="1"/>
<circle cx="321.2" cy="288.9" r="1.2" fill="#c8cad2"/>
<line x1="110" y1="210" x2="110" y2="228" stroke="#8a9098" stroke-width="1"/>
<circle cx="110" cy="228" r="1.2" fill="#8a9098"/>
<line x1="140" y1="210" x2="140" y2="230" stroke="#8a9098" stroke-width="1"/>
<circle cx="140" cy="230" r="1.2" fill="#8a9098"/>
<line x1="175" y1="210" x2="175" y2="229" stroke="#8a9098" stroke-width="1"/>
<circle cx="175" cy="229" r="1.2" fill="#8a9098"/>
<line x1="245" y1="210" x2="245" y2="229" stroke="#8a9098" stroke-width="1"/>
<circle cx="245" cy="229" r="1.2" fill="#8a9098"/>
<line x1="275" y1="210" x2="275" y2="228" stroke="#8a9098" stroke-width="1"/>
<circle cx="275" cy="228" r="1.2" fill="#8a9098"/>
<line x1="310" y1="210" x2="310" y2="230" stroke="#8a9098" stroke-width="1"/>
<circle cx="310" cy="230" r="1.2" fill="#8a9098"/>
<line x1="355" y1="210" x2="355" y2="229" stroke="#8a9098" stroke-width="1"/>
<circle cx="355" cy="229" r="1.2" fill="#8a9098"/>
<line x1="380" y1="210" x2="380" y2="230" stroke="#8a9098" stroke-width="1"/>
<circle cx="380" cy="230" r="1.2" fill="#8a9098"/>
<line x1="398" y1="210" x2="398" y2="229" stroke="#8a9098" stroke-width="1"/>
<circle cx="398" cy="229" r="1.2" fill="#8a9098"/>
<rect x="384.6" y="139" width="5" height="26" fill="#d2d4da" opacity="0.8"/>
<path d="M88 195.9H390V194.2H413" stroke="#9aa0c4" stroke-width="6" fill="none" opacity="0.55"/>
<path d="M124.2 212V246" stroke="#9c3060" stroke-width="1.8" fill="none"/>
<path d="M261.4 197V217.9" stroke="#9c3060" stroke-width="1.8" fill="none"/>
<path d="M321.2 217V239" stroke="#9c3060" stroke-width="1.8" fill="none"/>
<path d="M162.2 198V203.7" stroke="#9c3060" stroke-width="1.8" fill="none"/>
<path d="M338.6 192.8V213" stroke="#9c3060" stroke-width="1.8" fill="none"/>
<path d="M347.9 193.5V217.9" stroke="#9c3060" stroke-width="1.8" fill="none"/>
<path d="M370.5 215V181.8H373.8V215" stroke="#9c3060" stroke-width="1.8" fill="none"/>
<path d="M390.7 195.6V215" stroke="#9c3060" stroke-width="1.8" fill="none"/>
<path d="M404.1 195.6V203.6" stroke="#9c3060" stroke-width="1.8" fill="none"/>
<circle cx="383.5" cy="192.5" r="1.6" fill="none" stroke="#9c3060" stroke-width="1.4"/>
<path d="M88 195.9H364L366 194.6H372V195.9H388L392 193.6H413" stroke="#2d2d82" stroke-width="2.8" fill="none"/>
<path d="M102.3 195.9V202.8" stroke="#2d2d82" stroke-width="2.8" fill="none"/>
<path d="M124.0 195.9V212.5" stroke="#2d2d82" stroke-width="2.8" fill="none"/>
<path d="M264.4 195.9V207.3" stroke="#2d2d82" stroke-width="3.6" fill="none"/>
<path d="M321.4 195.9V217.5" stroke="#2d2d82" stroke-width="2.8" fill="none"/>
<path d="M193.7 195.9V192.8" stroke="#2d2d82" stroke-width="2.4" fill="none"/>
<path d="M308 195.9V190.6" stroke="#2d2d82" stroke-width="2.4" fill="none"/>
<path d="M412.3 193.6L414.8 191.2" stroke="#2d2d82" stroke-width="2.4" fill="none"/>
<path d="M394 193.4H412" stroke="#9c3060" stroke-width="1.6" fill="none" opacity="0.75"/>
<path d="M57.8 511.1V547.3M60.2 548.9V581.9M62.3 496.5V589.4M65.8 521.4V594.7M68.5 470.0V549.2M71.0 530.8V606.0M72.9 498.1V569.6M75.3 491.8V580.5M78.5 507.0V542.4M80.7 528.1V606.0M82.8 536.7V606.0M86.0 495.2V606.0M89.3 524.4V561.8M91.3 488.1V529.1M93.3 517.5V542.1M95.6 470.0V592.0M98.1 488.0V564.3M100.1 524.4V546.0M103.4 542.5V552.2M105.2 519.8V553.8M107.7 486.1V606.0M109.7 515.2V559.8M111.6 507.3V553.7M113.6 503.1V568.1M115.6 477.7V543.2M119.1 470.0V548.6M122.1 519.3V551.5M125.4 491.3V565.6M127.2 530.6V579.1M129.1 516.7V542.0M132.6 470.0V542.1M135.3 494.0V537.2M137.1 538.4V572.6M140.0 521.4V551.0M142.0 507.5V546.3M145.2 515.2V547.7M148.0 515.3V549.6M149.9 470.0V554.2M152.2 516.7V562.9M155.3 470.0V569.4M157.4 516.9V540.1M159.0 470.0V606.0M162.5 470.0V551.5M165.7 552.5V571.9M169.1 471.8V572.9M171.7 526.1V585.7M174.1 528.1V546.8M176.5 521.7V555.3M179.5 532.0V606.0M183.0 536.9V570.8M186.3 504.1V557.9M189.1 526.3V575.0M191.0 537.6V561.5M193.8 474.4V564.2M197.0 524.0V555.1M199.2 481.6V556.7M201.6 501.9V563.4M204.7 509.5V564.8M207.3 470.0V538.6M210.2 493.8V543.6M213.1 486.5V553.1M215.7 470.0V552.6M218.4 523.1V531.5M221.4 470.0V573.7M224.9 524.4V577.5M227.8 537.2V606.0M229.6 563.1V600.0M232.8 566.8V652.9M235.9 525.0V663.9M237.8 561.8V670.1M239.6 545.9V631.6M243.1 585.7V616.7M246.3 544.4V660.5M249.7 561.2V596.5M251.6 538.4V624.1M253.6 561.0V633.6M256.4 508.3V604.1M259.1 582.6V682.8M261.1 517.0V598.4M263.9 547.0V624.7M266.3 577.6V611.8M268.9 570.5V643.4M271.6 586.4V637.1M274.2 561.0V644.7M277.7 568.1V641.4M279.6 511.9V604.3M281.5 581.9V597.2M284.5 519.4V603.0M288.0 564.2V617.2M291.0 535.0V635.1M293.5 538.5V606.8M296.6 507.1V692.0M298.7 584.5V613.7M301.0 575.7V587.9M303.2 555.4V600.3M304.9 546.9V669.8M307.8 547.6V595.2M309.4 549.2V624.3M311.5 518.7V620.4M314.3 584.0V649.5M317.1 576.8V692.0M320.6 500.0V692.0M323.2 500.0V659.2M326.5 504.5V638.0M330.0 545.6V667.3M333.3 500.0V646.4M335.9 513.7V597.6M339.3 512.8V628.5M341.6 500.0V670.1M345.0 567.6V689.4M347.0 584.8V609.1M349.2 550.0V597.4M351.9 559.9V599.6M355.3 567.0V629.2M358.0 578.0V588.1M361.2 494.8V541.3M363.7 486.0V545.7M367.0 533.3V535.9M370.4 499.8V555.1M373.2 533.9V553.0M376.2 486.0V554.1M378.8 517.3V548.4M381.3 500.2V566.0M384.4 543.5V580.7M387.7 515.2V553.8M390.8 527.5V536.5M394.3 508.3V561.3M397.3 486.0V549.5M399.6 511.0V544.5M401.8 525.4V547.2M404.7 519.5V552.9M406.6 479.4V538.5M409.0 481.7V553.4M412.4 515.4V567.7M415.6 504.0V550.4M419.1 491.3V546.1M422.2 502.7V566.4M425.6 526.3V548.4M428.5 472.0V556.1M430.8 513.1V532.6M433.7 514.6V573.9M436.8 480.4V542.4M439.3 526.9V561.3M441.5 498.5V533.6M443.3 492.3V540.7M446.2 496.4V575.4" stroke="#c5c7d1" stroke-width="1.7" fill="none"/>
<polyline points="57.3,543.0 59.2,550.8 61.7,558.5 63.7,550.8 68.8,530.6 73.3,584.4 82.9,557.5 84.8,523.8 86.7,545.0 96.3,552.7 99.2,541.2 109.8,575.8 110.4,521.9 111.0,550.0 111.6,521.0 115.6,512.3 123.3,515.2 124.2,529.6 131.0,510.4 131.4,573.8 131.8,512.0 148.3,526.7 148.6,483.5 150.4,502.3 156.9,540.8 166.5,567.7 176.2,544.6 201.2,560.8 208.8,546.5 210.8,565.8 215.0,543.0 218.0,560.0 226.4,492.7 235.8,556.2 258.8,608.5 275.4,551.9 275.8,586.5 280.0,595.8 289.2,548.5 300.3,576.2 301.9,562.3 303.5,568.0 304.7,534.6 306.5,552.0 311.2,561.2 313.5,606.2 314.2,582.0 331.2,524.2 342.3,583.1 343.5,568.1 349.2,561.2 370.0,552.0 386.7,543.0 390.0,511.5 402.0,575.7 405.2,439.8 406.3,469.1 408.5,513.7 411.7,518.0 418.3,547.4 440.0,558.3 442.2,549.6 446.5,555.0" stroke="#75787f" stroke-width="1.2" fill="none"/>
<path d="M228.8 542.6V610.3H358.6V542.6" stroke="#a23862" stroke-width="1.6" fill="none"/>
<path d="M57 542.7H447" stroke="#3b3b9e" stroke-width="1.6" fill="none"/>
<path d="M56.8 357V47.6H364" stroke="#111" stroke-width="1.4" fill="none"/>
<path d="M447 59.5V356.8H56.2" stroke="#6e6e6e" stroke-width="1.4" fill="none"/>
<path d="M51.2 195.9H56" stroke="#444" stroke-width="1"/>
<path d="M88.6 357V361.5" stroke="#444" stroke-width="1"/>
<path d="M180.2 357V361.5" stroke="#444" stroke-width="1"/>
<path d="M271.4 357V361.5" stroke="#444" stroke-width="1"/>
<path d="M362.5 357V361.5" stroke="#444" stroke-width="1"/>
<path d="M260.5 218L56.7 431.7M262.5 218L447 431.7" stroke="#111" stroke-width="1.4" fill="none"/>
<path d="M56.7 741V431.7H447" stroke="#111" stroke-width="1.4" fill="none"/>
<path d="M447 431.7V741H56" stroke="#6e6e6e" stroke-width="1.4" fill="none"/>
<path d="M51.8 542H56" stroke="#444" stroke-width="1"/>
<path d="M71.3 741V746" stroke="#444" stroke-width="1"/>
<path d="M177.5 741V746" stroke="#444" stroke-width="1"/>
<path d="M283.7 741V746" stroke="#444" stroke-width="1"/>
<path d="M389.9 741V746" stroke="#444" stroke-width="1"/>
<path d="M265.5 111V189" stroke="#111" stroke-width="1.3"/>
<path d="M263.4 187.5L265.5 192.6L267.6 187.5Z" fill="#111"/>
<path d="M276.5 475.3V536" stroke="#111" stroke-width="1.3"/>
<path d="M274.6 534.6L276.5 540L278.4 534.6Z" fill="#111"/>
<rect x="363.5" y="1.5" width="154" height="58" fill="#fff" stroke="#666" stroke-width="1.2"/>
<path d="M368 10.3H399.7" stroke="#801c46" stroke-width="2.4"/>
<path d="M368 23.4H399.7" stroke="#c9c9cf" stroke-width="2.4"/>
<path d="M368 37.3H399.7" stroke="#26268c" stroke-width="2.4"/>
<path d="M368 51.1H399.7" stroke="#8b8d92" stroke-width="2.4"/>
<text x="253" y="28.8" font-size="17" text-anchor="middle" fill="#111" >CLL189</text>
<text x="408.5" y="13.9" font-size="11.1" text-anchor="start" fill="#333" >390k Segment</text>
<text x="408.5" y="27.7" font-size="11.1" text-anchor="start" fill="#333" >390k Geomean Ratio</text>
<text x="408.5" y="40.5" font-size="11.1" text-anchor="start" fill="#333" >85k Segment</text>
<text x="408.5" y="54.2" font-size="11.1" text-anchor="start" fill="#333" >85k Geomean Ratio</text>
<text x="46.5" y="54.400000000000006" font-size="9.2" text-anchor="end" fill="#333" >8</text>
<text x="46.5" y="64.0" font-size="9.2" text-anchor="end" fill="#333" >7</text>
<text x="46.5" y="74.5" font-size="9.2" text-anchor="end" fill="#333" >6</text>
<text x="46.5" y="87.0" font-size="9.2" text-anchor="end" fill="#333" >5</text>
<text x="46.5" y="103.2" font-size="9.2" text-anchor="end" fill="#333" >4</text>
<text x="46.5" y="123.4" font-size="9.2" text-anchor="end" fill="#333" >3</text>
<text x="46.5" y="152.0" font-size="9.2" text-anchor="end" fill="#333" >2</text>
<text x="46.5" y="207.31271347082935" font-size="9.2" text-anchor="end" fill="#333" >9</text>
<text x="46.5" y="215.59942210730512" font-size="9.2" text-anchor="end" fill="#333" >8</text>
<text x="46.5" y="224.99411751769037" font-size="9.2" text-anchor="end" fill="#333" >7</text>
<text x="46.5" y="235.8394974378497" font-size="9.2" text-anchor="end" fill="#333" >6</text>
<text x="46.5" y="248.66685929756494" font-size="9.2" text-anchor="end" fill="#333" >5</text>
<text x="46.5" y="264.36628140487005" font-size="9.2" text-anchor="end" fill="#333" >4</text>
<text x="46.5" y="284.6063567354147" font-size="9.2" text-anchor="end" fill="#333" >3</text>
<text x="46.5" y="313.133140702435" font-size="9.2" text-anchor="end" fill="#333" >2</text>
<text x="34" y="202.8" font-size="12.5" text-anchor="end" fill="#3a3a3a" textLength="11.4" lengthAdjust="spacingAndGlyphs">10</text>
<text x="46" y="197.6" font-size="8" text-anchor="end" fill="#333" >0.0</text>
<text transform="translate(10.6,183.4) rotate(-90)" font-size="11.4" text-anchor="middle" fill="#222">log ratio</text>
<text x="88.6" y="377.3" font-size="11.1" text-anchor="middle" fill="#444" >0</text>
<text x="180.2" y="377.3" font-size="11.1" text-anchor="middle" fill="#444" >100000</text>
<text x="271.4" y="377.3" font-size="11.1" text-anchor="middle" fill="#444" >200000</text>
<text x="362.5" y="377.3" font-size="11.1" text-anchor="middle" fill="#444" >300000</text>
<text x="251.2" y="394.6" font-size="11.15" text-anchor="middle" fill="#444" >probe number in genomic order</text>
<text x="46.5" y="568.7617752425803" font-size="9.2" text-anchor="end" fill="#333" >9</text>
<text x="46.5" y="594.5426465560605" font-size="9.2" text-anchor="end" fill="#333" >8</text>
<text x="46.5" y="623.7705878328146" font-size="9.2" text-anchor="end" fill="#333" >7</text>
<text x="46.5" y="657.5117698066437" font-size="9.2" text-anchor="end" fill="#333" >6</text>
<text x="46.5" y="697.4191178146466" font-size="9.2" text-anchor="end" fill="#333" >5</text>
<text x="34" y="548.9" font-size="12.5" text-anchor="end" fill="#3a3a3a" textLength="11.4" lengthAdjust="spacingAndGlyphs">10</text>
<text x="46" y="544.2" font-size="8" text-anchor="end" fill="#333" >0.0</text>
<text transform="translate(11.5,562.1) rotate(-90)" font-size="11.4" text-anchor="middle" fill="#222">log ratio</text>
<text x="71.3" y="761.3" font-size="11.1" text-anchor="middle" fill="#444" >189700</text>
<text x="177.5" y="761.3" font-size="11.1" text-anchor="middle" fill="#444" >189800</text>
<text x="283.7" y="761.3" font-size="11.1" text-anchor="middle" fill="#444" >189900</text>
<text x="389.9" y="761.3" font-size="11.1" text-anchor="middle" fill="#444" >190000</text>
<text x="251.2" y="779.2" font-size="11.15" text-anchor="middle" fill="#444" >probe number in genomic order</text>
<text x="208.2" y="92.5" font-size="10.5" text-anchor="start" fill="#1a1a1a" textLength="116" lengthAdjust="spacingAndGlyphs">False positive call on the</text>
<text x="208.2" y="105.4" font-size="10.5" text-anchor="start" fill="#1a1a1a" textLength="74" lengthAdjust="spacingAndGlyphs">85k experiment</text>
<text x="220.6" y="457.5" font-size="10.5" text-anchor="start" fill="#1a1a1a" textLength="121" lengthAdjust="spacingAndGlyphs">False negative call on the</text>
<text x="220.6" y="470.4" font-size="10.5" text-anchor="start" fill="#1a1a1a" textLength="74.6" lengthAdjust="spacingAndGlyphs">85k experiment</text>
<text x="240.5" y="710.3" font-size="10" text-anchor="start" fill="#1a1a1a" textLength="97.5" lengthAdjust="spacingAndGlyphs">9p21.3 <tspan font-style="italic">CDKN2A</tspan> (<tspan font-style="italic">p16</tspan>)</text>
</svg>
</body></html>
